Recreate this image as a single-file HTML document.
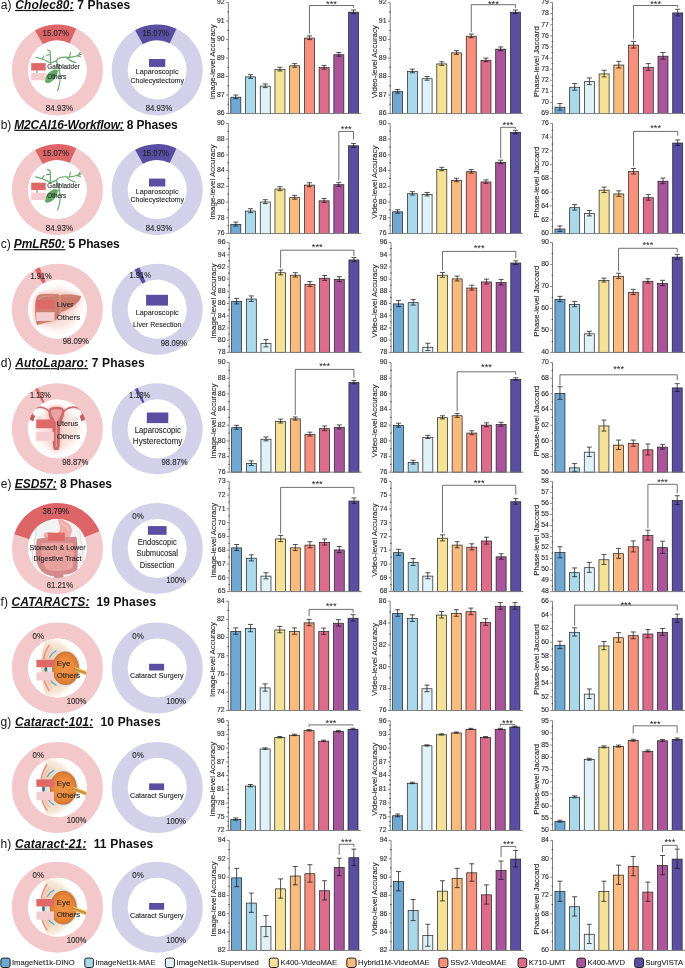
<!DOCTYPE html><html><head><meta charset="utf-8"><style>html,body{margin:0;padding:0;background:#fff;}body{width:685px;height:968px;position:relative;overflow:hidden;} svg{will-change:transform;} text.w{stroke:#333;stroke-width:0.12px;}</style></head><body><svg width="685" height="968" viewBox="0 0 685 968" style="position:absolute;left:0;top:0;font-family:'Liberation Sans', sans-serif">
<rect width="685" height="968" fill="#fff"/>
<defs>
<radialGradient id="glow" cx="50%" cy="50%" r="50%">
<stop offset="0" stop-color="#f7d2cc"/><stop offset="0.6" stop-color="#fbe6e2"/><stop offset="1" stop-color="#fff" stop-opacity="0"/>
</radialGradient>
</defs>
<text x="0.7" y="8.9" font-size="12" fill="#111" textLength="129.6" xml:space="preserve"><tspan>a) </tspan><tspan font-weight="bold" font-style="italic" text-decoration="underline">Cholec80:</tspan><tspan font-weight="bold" xml:space="preserve"> 7 Phases</tspan></text>
<text x="0.8" y="128.7" font-size="12" fill="#111" textLength="176.8" xml:space="preserve"><tspan>b) </tspan><tspan font-weight="bold" font-style="italic" text-decoration="underline">M2CAI16-Workflow:</tspan><tspan font-weight="bold" xml:space="preserve"> 8 Phases</tspan></text>
<text x="0.8" y="248.1" font-size="12" fill="#111" textLength="119" xml:space="preserve"><tspan>c) </tspan><tspan font-weight="bold" font-style="italic" text-decoration="underline">PmLR50:</tspan><tspan font-weight="bold" xml:space="preserve"> 5 Phases</tspan></text>
<text x="0.8" y="367.1" font-size="12" fill="#111" textLength="144" xml:space="preserve"><tspan>d) </tspan><tspan font-weight="bold" font-style="italic" text-decoration="underline">AutoLaparo:</tspan><tspan font-weight="bold" xml:space="preserve"> 7 Phases</tspan></text>
<text x="0.8" y="487.7" font-size="12" fill="#111" textLength="111.2" xml:space="preserve"><tspan>e) </tspan><tspan font-weight="bold" font-style="italic" text-decoration="underline">ESD57:</tspan><tspan font-weight="bold" xml:space="preserve"> 8 Phases</tspan></text>
<text x="0.5" y="605.8" font-size="12" fill="#111" textLength="155.6" xml:space="preserve"><tspan>f) </tspan><tspan font-weight="bold" font-style="italic" text-decoration="underline">CATARACTS:</tspan><tspan font-weight="bold" xml:space="preserve">  19 Phases</tspan></text>
<text x="0.5" y="725.8" font-size="12" fill="#111" textLength="160.1" xml:space="preserve"><tspan>g) </tspan><tspan font-weight="bold" font-style="italic" text-decoration="underline">Cataract-101:</tspan><tspan font-weight="bold" xml:space="preserve">  10 Phases</tspan></text>
<text x="0.5" y="847.7" font-size="12" fill="#111" textLength="152.7" xml:space="preserve"><tspan>h) </tspan><tspan font-weight="bold" font-style="italic" text-decoration="underline">Cataract-21:</tspan><tspan font-weight="bold" xml:space="preserve">  11 Phases</tspan></text>
<defs>
<filter id="blur3" x="-50%" y="-50%" width="200%" height="200%"><feGaussianBlur stdDeviation="2.6"/></filter>
<linearGradient id="skin" x1="0" y1="0" x2="1" y2="0">
<stop offset="0" stop-color="#f1d4b8"/><stop offset="0.45" stop-color="#f4dcc6"/><stop offset="0.85" stop-color="#fbf1e8"/><stop offset="1" stop-color="#fff"/>
</linearGradient>
<radialGradient id="eyeg" cx="50%" cy="50%" r="50%">
<stop offset="0" stop-color="#f09448"/><stop offset="0.7" stop-color="#e8873a"/><stop offset="1" stop-color="#d6732c"/>
</radialGradient>
</defs>
<path d="M76.36 28.64A45.5 45.5 0 1 1 34.91 30.45L42.82 44.36A29.5 29.5 0 1 0 69.69 43.18Z" fill="#f2c8ca"/>
<path d="M34.91 30.45A45.5 45.5 0 0 1 76.36 28.64L69.69 43.18A29.5 29.5 0 0 0 42.82 44.36Z" fill="#dd6567"/>
<path d="M176.52 28.81A45.5 45.5 0 1 1 135.05 30.25L142.84 44.23A29.5 29.5 0 1 0 169.73 43.29Z" fill="#d3d0e9"/>
<path d="M135.05 30.25A45.5 45.5 0 0 1 176.52 28.81L169.73 43.29A29.5 29.5 0 0 0 142.84 44.23Z" fill="#5a4ea3"/>
<path d="M57.7 90.5C60 84 61 78 59.6 72C58.6 67 56.5 63 56.6 60.5M56.6 60.5C58 57.5 62 56.5 69.6 57.4C74 57 78 55.5 81.4 54.2M69.6 57.4L70.3 52.6M76.5 55.8L80.5 56.8M78.5 55L80.2 52.4M66.5 57.8C69 60 72 62 75.5 62.6M56.6 60.5C54 61.5 51.5 62.5 50.6 63.4M50.6 63.4C46 60 41 58.5 35.8 57.3M50.6 63.4C50.5 59 50.4 55 50 51M50 51L47.6 50M50.2 54.5L46.5 55.2M42.5 58.3L44 56M37 68L36.9 75.2M59.4 70.8C58 70.5 57 71 56 72" stroke="#63a567" stroke-width="1.15" fill="none" stroke-linecap="round"/>
<ellipse cx="51.3" cy="76.3" rx="4.2" ry="8.4" fill="#62a866" transform="rotate(42 51.3 76.3)"/>
<rect x="31.2" y="63.1" width="14.5" height="7.4" fill="#df6869"/>
<rect x="31.2" y="73" width="14.5" height="7.3" fill="#f5cdd0"/>
<text class="w" x="47.3" y="68.7" font-size="6.3" text-anchor="start" fill="#1e1e1e" textLength="32.5" lengthAdjust="spacingAndGlyphs">Gallbladder</text>
<text class="w" x="47.3" y="78.7" font-size="6.3" text-anchor="start" fill="#1e1e1e" textLength="19.0" lengthAdjust="spacingAndGlyphs">Others</text>
<text class="w" x="55.8" y="36.1" font-size="8.3" text-anchor="middle" fill="#1e1e1e" textLength="26.5" lengthAdjust="spacingAndGlyphs">15.07%</text>
<text class="w" x="59.4" y="111" font-size="8.3" text-anchor="middle" fill="#1e1e1e" textLength="27.3" lengthAdjust="spacingAndGlyphs">84.93%</text>
<text class="w" x="155.7" y="35.9" font-size="8.3" text-anchor="middle" fill="#1e1e1e" textLength="26.5" lengthAdjust="spacingAndGlyphs">15.07%</text>
<text class="w" x="158.9" y="111.4" font-size="8.3" text-anchor="middle" fill="#1e1e1e" textLength="26.5" lengthAdjust="spacingAndGlyphs">84.93%</text>
<rect x="149" y="59" width="16.3" height="7.9" fill="#5a4ea3"/>
<text class="w" x="157.2" y="74.2" font-size="7.1" text-anchor="middle" fill="#1e1e1e" textLength="42.7" lengthAdjust="spacingAndGlyphs">Laparoscopic</text>
<text class="w" x="157.2" y="82.7" font-size="7.1" text-anchor="middle" fill="#1e1e1e" textLength="53.6" lengthAdjust="spacingAndGlyphs">Cholecystectomy</text>
<path d="M76.36 148.24A45.5 45.5 0 1 1 34.91 150.05L42.82 163.96A29.5 29.5 0 1 0 69.69 162.78Z" fill="#f2c8ca"/>
<path d="M34.91 150.05A45.5 45.5 0 0 1 76.36 148.24L69.69 162.78A29.5 29.5 0 0 0 42.82 163.96Z" fill="#dd6567"/>
<path d="M176.52 148.41A45.5 45.5 0 1 1 135.05 149.85L142.84 163.83A29.5 29.5 0 1 0 169.73 162.89Z" fill="#d3d0e9"/>
<path d="M135.05 149.85A45.5 45.5 0 0 1 176.52 148.41L169.73 162.89A29.5 29.5 0 0 0 142.84 163.83Z" fill="#5a4ea3"/>
<path d="M57.7 210.1C60 203.6 61 197.6 59.6 191.6C58.6 186.6 56.5 182.6 56.6 180.1M56.6 180.1C58 177.1 62 176.1 69.6 177C74 176.6 78 175.1 81.4 173.8M69.6 177L70.3 172.2M76.5 175.4L80.5 176.4M78.5 174.6L80.2 172M66.5 177.4C69 179.6 72 181.6 75.5 182.2M56.6 180.1C54 181.1 51.5 182.1 50.6 183M50.6 183C46 179.6 41 178.1 35.8 176.9M50.6 183C50.5 178.6 50.4 174.6 50 170.6M50 170.6L47.6 169.6M50.2 174.1L46.5 174.8M42.5 177.9L44 175.6M37 187.6L36.9 194.8M59.4 190.4C58 190.1 57 190.6 56 191.6" stroke="#63a567" stroke-width="1.15" fill="none" stroke-linecap="round"/>
<ellipse cx="51.3" cy="195.9" rx="4.2" ry="8.4" fill="#62a866" transform="rotate(42 51.3 195.9)"/>
<rect x="31.2" y="182.7" width="14.5" height="7.4" fill="#df6869"/>
<rect x="31.2" y="192.6" width="14.5" height="7.3" fill="#f5cdd0"/>
<text class="w" x="47.3" y="188.3" font-size="6.3" text-anchor="start" fill="#1e1e1e" textLength="32.5" lengthAdjust="spacingAndGlyphs">Gallbladder</text>
<text class="w" x="47.3" y="198.3" font-size="6.3" text-anchor="start" fill="#1e1e1e" textLength="19.0" lengthAdjust="spacingAndGlyphs">Others</text>
<text class="w" x="55.8" y="155.7" font-size="8.3" text-anchor="middle" fill="#1e1e1e" textLength="26.5" lengthAdjust="spacingAndGlyphs">15.07%</text>
<text class="w" x="59.4" y="230.6" font-size="8.3" text-anchor="middle" fill="#1e1e1e" textLength="27.3" lengthAdjust="spacingAndGlyphs">84.93%</text>
<text class="w" x="155.7" y="155.5" font-size="8.3" text-anchor="middle" fill="#1e1e1e" textLength="26.5" lengthAdjust="spacingAndGlyphs">15.07%</text>
<text class="w" x="158.9" y="231" font-size="8.3" text-anchor="middle" fill="#1e1e1e" textLength="26.5" lengthAdjust="spacingAndGlyphs">84.93%</text>
<rect x="149" y="178.6" width="16.3" height="7.9" fill="#5a4ea3"/>
<text class="w" x="157.2" y="193.8" font-size="7.1" text-anchor="middle" fill="#1e1e1e" textLength="42.7" lengthAdjust="spacingAndGlyphs">Laparoscopic</text>
<text class="w" x="157.2" y="202.3" font-size="7.1" text-anchor="middle" fill="#1e1e1e" textLength="53.6" lengthAdjust="spacingAndGlyphs">Cholecystectomy</text>
<path d="M39.58 267.34A45.5 45.5 0 1 1 34.69 269.77L42.68 283.64A29.5 29.5 0 1 0 45.84 282.06Z" fill="#f2c8ca"/>
<path d="M34.69 269.77A45.5 45.5 0 0 1 39.58 267.34L45.84 282.06A29.5 29.5 0 0 0 42.68 283.64Z" fill="#dd6567"/>
<path d="M139.38 267.34A45.5 45.5 0 1 1 134.49 269.77L142.48 283.64A29.5 29.5 0 1 0 145.64 282.06Z" fill="#d3d0e9"/>
<path d="M134.49 269.77A45.5 45.5 0 0 1 139.38 267.34L145.64 282.06A29.5 29.5 0 0 0 142.48 283.64Z" fill="#5a4ea3"/>
<clipPath id="cl2"><circle cx="57.4" cy="309.2" r="29.5"/></clipPath>
<g clip-path="url(#cl2)">
<circle cx="57.4" cy="309.2" r="29.5" fill="url(#glow)"/>
<path d="M36.5 298C37.5 295.3 39 294.3 41.5 294.2C47 294 54 294 58.6 294.5L60 295.8L61.5 294.8C68 294.3 76 294.6 81.2 296.3C80.5 299.5 77.5 303 73.5 306C69.5 309 64 311 60.5 312.2C59 315 57.5 319 54.5 320.8C48 322.3 42 323.5 37.2 325C35.8 322 35.2 316 35.2 309C35.2 304 35.6 300.5 36.5 298Z" fill="#eea69c" filter="url(#blur3)"/>
<path d="M36.5 298C37.5 295.3 39 294.3 41.5 294.2C47 294 54 294 58.6 294.5L60 295.8L61.5 294.8C68 294.3 76 294.6 81.2 296.3C80.5 299.5 77.5 303 73.5 306C69.5 309 64 311 60.5 312.2C59 315 57.5 319 54.5 320.8C48 322.3 42 323.5 37.2 325C35.8 322 35.2 316 35.2 309C35.2 304 35.6 300.5 36.5 298Z" fill="#cb7d6e"/>
<path d="M38 300C40 296.5 46 295.5 55 296" stroke="#d99384" stroke-width="1.2" fill="none"/>
<path d="M63 297C68 296.2 74 296.5 78 297.5" stroke="#d38a7b" stroke-width="0.9" fill="none"/>
<path d="M60 295.8L60.3 312" stroke="#e5ae9f" stroke-width="0.6"/>
</g>
<rect x="36.2" y="300.1" width="18.3" height="8.8" fill="#df6869"/>
<rect x="36.2" y="312.2" width="18.3" height="8.7" fill="#f5cdd0"/>
<text class="w" x="56.7" y="306.7" font-size="7.8" text-anchor="start" fill="#1e1e1e" textLength="16.9" lengthAdjust="spacingAndGlyphs">Liver</text>
<text class="w" x="56.7" y="319.8" font-size="7.8" text-anchor="start" fill="#1e1e1e" textLength="23.5" lengthAdjust="spacingAndGlyphs">Others</text>
<text class="w" x="41.1" y="278.8" font-size="8.3" text-anchor="middle" fill="#1e1e1e" textLength="21.4" lengthAdjust="spacingAndGlyphs">1.91%</text>
<text class="w" x="75.8" y="344" font-size="8.3" text-anchor="middle" fill="#1e1e1e" textLength="26.3" lengthAdjust="spacingAndGlyphs">98.09%</text>
<text class="w" x="140.2" y="278.4" font-size="8.3" text-anchor="middle" fill="#1e1e1e" textLength="21.4" lengthAdjust="spacingAndGlyphs">1.91%</text>
<text class="w" x="173.8" y="346" font-size="8.3" text-anchor="middle" fill="#1e1e1e" textLength="26.3" lengthAdjust="spacingAndGlyphs">98.09%</text>
<rect x="146.1" y="294.8" width="21.9" height="10.8" fill="#5a4ea3"/>
<text class="w" x="157.2" y="314.9" font-size="7.1" text-anchor="middle" fill="#1e1e1e" textLength="43.0" lengthAdjust="spacingAndGlyphs">Laparoscopic</text>
<text class="w" x="157.2" y="326.7" font-size="7.1" text-anchor="middle" fill="#1e1e1e" textLength="48.5" lengthAdjust="spacingAndGlyphs">Liver Resection</text>
<path d="M37.84 387.72A45.5 45.5 0 1 1 34.97 389.21L42.86 403.13A29.5 29.5 0 1 0 44.72 402.17Z" fill="#f2c8ca"/>
<path d="M34.97 389.21A45.5 45.5 0 0 1 37.84 387.72L44.72 402.17A29.5 29.5 0 0 0 42.86 403.13Z" fill="#dd6567"/>
<path d="M137.64 387.72A45.5 45.5 0 1 1 134.77 389.21L142.66 403.13A29.5 29.5 0 1 0 144.52 402.17Z" fill="#d3d0e9"/>
<path d="M134.77 389.21A45.5 45.5 0 0 1 137.64 387.72L144.52 402.17A29.5 29.5 0 0 0 142.66 403.13Z" fill="#5a4ea3"/>
<clipPath id="cl3"><circle cx="57.4" cy="428.8" r="29.5"/></clipPath>
<g clip-path="url(#cl3)">
<circle cx="57.4" cy="428.8" r="29.5" fill="url(#glow)"/>
<path d="M48.5 412C48.5 407.5 52.5 406.8 56.3 406.8C60.5 406.8 64.3 407.5 64.3 412C64.3 417 61.5 421 60 425L59.8 440C59.8 445 59.3 448 58.5 450L54 450C53.2 448 52.8 445 52.8 440L52.6 425C51 421 48.5 417 48.5 412Z" fill="#f0a8a2" filter="url(#blur3)"/>
<path d="M49.5 411.5C44 407 38 405.8 33.5 409.5C32 411 31.5 413 32 416M63.5 411.5C69 407 75 405.8 80.5 409.5C82.5 411 83 413 82.5 416" stroke="#c56767" stroke-width="1.7" fill="none"/>
<path d="M49.5 411.5C44 407.6 38 406.5 33.8 410M63.5 411.5C69 407.6 75 406.5 80.2 410" stroke="#e9a3a0" stroke-width="0.5" fill="none"/>
<path d="M30.8 413L29.6 419.5L33.2 421.5L35.2 416Z M84 413L85.2 419.5L81.6 421.5L79.6 416Z" fill="#c25e5e"/>
<ellipse cx="39.4" cy="417.8" rx="3" ry="2" fill="#e9e4e4"/>
<ellipse cx="75.2" cy="419" rx="3" ry="2" fill="#e9e4e4"/>
<path d="M48.5 412C48.5 407.5 52.5 406.8 56.3 406.8C60.5 406.8 64.3 407.5 64.3 412C64.3 417 61.5 421 60 425L59.8 440C59.8 445 59.3 448 58.5 450L54 450C53.2 448 52.8 445 52.8 440L52.6 425C51 421 48.5 417 48.5 412Z" fill="#cc6b6b"/>
<path d="M50.5 410.5C53 408.8 59.5 408.8 62.2 410.5C61.5 415.5 58.8 419.5 56.4 423C54 419.5 51.2 415.5 50.5 410.5Z" fill="#eaa3a1"/>
<path d="M56.4 423L56.3 447" stroke="#e49c99" stroke-width="1.3"/>
</g>
<rect x="36.2" y="419.5" width="17.7" height="8.7" fill="#df6869"/>
<rect x="36.2" y="432.1" width="17.7" height="8.7" fill="#f5cdd0"/>
<text class="w" x="56.7" y="426.4" font-size="7.8" text-anchor="start" fill="#1e1e1e" textLength="21.5" lengthAdjust="spacingAndGlyphs">Uterus</text>
<text class="w" x="56.7" y="438.7" font-size="7.8" text-anchor="start" fill="#1e1e1e" textLength="23.5" lengthAdjust="spacingAndGlyphs">Others</text>
<text class="w" x="40.3" y="398.2" font-size="8.3" text-anchor="middle" fill="#1e1e1e" textLength="20.8" lengthAdjust="spacingAndGlyphs">1.13%</text>
<text class="w" x="75.3" y="464.8" font-size="8.3" text-anchor="middle" fill="#1e1e1e" textLength="26.3" lengthAdjust="spacingAndGlyphs">98.87%</text>
<text class="w" x="139.6" y="398.4" font-size="8.3" text-anchor="middle" fill="#1e1e1e" textLength="21.0" lengthAdjust="spacingAndGlyphs">1.13%</text>
<text class="w" x="174.6" y="465.3" font-size="8.3" text-anchor="middle" fill="#1e1e1e" textLength="26.1" lengthAdjust="spacingAndGlyphs">98.87%</text>
<rect x="146.8" y="412.5" width="21.5" height="10.6" fill="#5a4ea3"/>
<text class="w" x="157.8" y="432.9" font-size="9.0" text-anchor="middle" fill="#1e1e1e" textLength="46.3" lengthAdjust="spacingAndGlyphs">Laparoscopic</text>
<text class="w" x="157.6" y="444.4" font-size="9.0" text-anchor="middle" fill="#1e1e1e" textLength="49.5" lengthAdjust="spacingAndGlyphs">Hysterectomy</text>
<path d="M99.53 531.22A45.5 45.5 0 1 1 14.17 534.21L29.37 539.2A29.5 29.5 0 1 0 84.72 537.26Z" fill="#f2c8ca"/>
<path d="M14.17 534.21A45.5 45.5 0 0 1 99.53 531.22L84.72 537.26A29.5 29.5 0 0 0 29.37 539.2Z" fill="#dd6567"/>
<circle cx="157.2" cy="548.4" r="37.5" fill="none" stroke="#d3d0e9" stroke-width="16.0"/>
<path d="M142.01 523.11L133.77 509.4" stroke="#fff" stroke-width="0.6" stroke-opacity="0.85"/>
<clipPath id="cl4"><circle cx="57.4" cy="548.4" r="29.5"/></clipPath>
<g clip-path="url(#cl4)">
<path d="M37 516C37.5 530 34 542 32.5 553C31.5 562 33 572 34 582L81 582C82 572 83.5 562 83 553C82 542 78.5 530 79 516Z" fill="#f2f2f2" stroke="#b8b8b8" stroke-width="0.5"/>
<path d="M57.4 516L61.6 516C62 520 64 521 67 522.5C71 524.5 72.3 529 71.6 532.5C70.5 538 66.5 542.5 60 542.6C53 542.8 46 541 43.8 536C43.5 533.5 45 532 47 532.3C51 533 56 533.5 58.4 532.5C60.5 531 60.2 527 59.3 524C58.5 521.5 57.6 519.5 57.4 516Z" fill="#efaba5"/>
<path d="M61 523C63 525 68 526 69 531" stroke="#f5c4bf" stroke-width="1.4" fill="none"/>
<path d="M37 539C48 536.5 63 537.5 76.5 536.8C78 547 78 560 77.2 570C72 573.5 68 575 63.5 574.5L63 582L54 582L54 576C49 576 45 574 42.5 572C38.5 568 36 563 35.8 555C35.8 549 36.2 543 37 539Z" fill="#d4898b"/>
<path d="M41.5 543.5C52 542 63 542.5 73 543C74 551 74 561 72.5 568C65 571 56 572 46.5 569.5C42 563 41 552 41.5 543.5Z" fill="#eaa7a1"/>
<ellipse cx="47" cy="549" rx="2.7" ry="2.1" fill="none" stroke="#d8918d" stroke-width="0.55"/>
<ellipse cx="53" cy="548.5" rx="2.7" ry="2.1" fill="none" stroke="#d8918d" stroke-width="0.55"/>
<ellipse cx="59" cy="549" rx="2.7" ry="2.1" fill="none" stroke="#d8918d" stroke-width="0.55"/>
<ellipse cx="65" cy="549" rx="2.7" ry="2.1" fill="none" stroke="#d8918d" stroke-width="0.55"/>
<ellipse cx="70" cy="549.5" rx="2.7" ry="2.1" fill="none" stroke="#d8918d" stroke-width="0.55"/>
<ellipse cx="46" cy="555" rx="2.7" ry="2.1" fill="none" stroke="#d8918d" stroke-width="0.55"/>
<ellipse cx="52" cy="555" rx="2.7" ry="2.1" fill="none" stroke="#d8918d" stroke-width="0.55"/>
<ellipse cx="58" cy="555.5" rx="2.7" ry="2.1" fill="none" stroke="#d8918d" stroke-width="0.55"/>
<ellipse cx="64" cy="555" rx="2.7" ry="2.1" fill="none" stroke="#d8918d" stroke-width="0.55"/>
<ellipse cx="69.5" cy="556" rx="2.7" ry="2.1" fill="none" stroke="#d8918d" stroke-width="0.55"/>
<ellipse cx="49" cy="561" rx="2.7" ry="2.1" fill="none" stroke="#d8918d" stroke-width="0.55"/>
<ellipse cx="55" cy="561.5" rx="2.7" ry="2.1" fill="none" stroke="#d8918d" stroke-width="0.55"/>
<ellipse cx="61" cy="561" rx="2.7" ry="2.1" fill="none" stroke="#d8918d" stroke-width="0.55"/>
<ellipse cx="67" cy="561.5" rx="2.7" ry="2.1" fill="none" stroke="#d8918d" stroke-width="0.55"/>
<ellipse cx="52" cy="566.5" rx="2.7" ry="2.1" fill="none" stroke="#d8918d" stroke-width="0.55"/>
<ellipse cx="58" cy="567" rx="2.7" ry="2.1" fill="none" stroke="#d8918d" stroke-width="0.55"/>
<ellipse cx="64" cy="566.5" rx="2.7" ry="2.1" fill="none" stroke="#d8918d" stroke-width="0.55"/>
</g>
<rect x="48.1" y="532.7" width="16.7" height="8.1" fill="#df6869"/>
<text class="w" x="57.5" y="549.8" font-size="7.1" text-anchor="middle" fill="#1e1e1e" textLength="56.2" lengthAdjust="spacingAndGlyphs">Stomach &amp; Lower</text>
<text class="w" x="57.5" y="560.9" font-size="7.1" text-anchor="middle" fill="#1e1e1e" textLength="47.8" lengthAdjust="spacingAndGlyphs">Digestive Tract</text>
<text class="w" x="55.8" y="514.3" font-size="8.3" text-anchor="middle" fill="#1e1e1e" textLength="26.5" lengthAdjust="spacingAndGlyphs">38.79%</text>
<text class="w" x="59.9" y="588.2" font-size="8.3" text-anchor="middle" fill="#1e1e1e" textLength="26.5" lengthAdjust="spacingAndGlyphs">61.21%</text>
<text class="w" x="138" y="518.8" font-size="8.3" text-anchor="middle" fill="#1e1e1e" textLength="11.5" lengthAdjust="spacingAndGlyphs">0%</text>
<text class="w" x="176.1" y="583.3" font-size="8.3" text-anchor="middle" fill="#1e1e1e" textLength="19.8" lengthAdjust="spacingAndGlyphs">100%</text>
<rect x="147.9" y="526.1" width="18.7" height="8.7" fill="#5a4ea3"/>
<text class="w" x="157.2" y="545.2" font-size="8.8" text-anchor="middle" fill="#1e1e1e" textLength="38.9" lengthAdjust="spacingAndGlyphs">Endoscopic</text>
<text class="w" x="157.2" y="556.3" font-size="8.8" text-anchor="middle" fill="#1e1e1e" textLength="41.6" lengthAdjust="spacingAndGlyphs">Submucosal</text>
<text class="w" x="157.2" y="567.7" font-size="8.8" text-anchor="middle" fill="#1e1e1e" textLength="34.7" lengthAdjust="spacingAndGlyphs">Dissection</text>
<circle cx="57.4" cy="668.0" r="37.5" fill="none" stroke="#f2c8ca" stroke-width="16.0"/>
<circle cx="157.2" cy="668.0" r="37.5" fill="none" stroke="#d3d0e9" stroke-width="16.0"/>
<path d="M42.21 642.71L33.97 629" stroke="#fff" stroke-width="0.6" stroke-opacity="0.85"/>
<path d="M142.01 642.71L133.77 629" stroke="#fff" stroke-width="0.6" stroke-opacity="0.85"/>
<clipPath id="cl5"><circle cx="57.4" cy="668" r="29.5"/></clipPath>
<g clip-path="url(#cl5)">
<radialGradient id="skcl5" gradientUnits="userSpaceOnUse" cx="46.9" cy="668" r="34"><stop offset="0" stop-color="#edcba9"/><stop offset="0.5" stop-color="#f1d5b9"/><stop offset="0.78" stop-color="#f8e9da"/><stop offset="0.93" stop-color="#fff"/></radialGradient>
<path d="M46.5 636C42.5 648 40.5 660 41 668.7C41.5 680 43.5 690 47.5 700L92 700L92 636Z" fill="url(#skcl5)"/>
<path d="M49.5 645C46.5 649 44.5 654 43.5 659.5M49.5 691C46.5 687 44.5 682 43.5 676.5" stroke="#e8948c" stroke-width="1.6" fill="none"/>
<path d="M52 648C49.5 651 47.5 655 46.5 659.5M52 688C49.5 685 47.5 681 46.5 676.5" stroke="#f2b9a8" stroke-width="1.0" fill="none"/>
<path d="M56.5 650.5C53.5 652 51 654.5 49.5 657.5M56.5 685.5C53.5 684 51 681.5 49.5 678.5" stroke="#5b9fd0" stroke-width="1.2" fill="none"/>
<path d="M59 646C56 647.5 53 649.5 51 652.5M59 690C56 688.5 53 686.5 51 683.5" stroke="#dfe8ee" stroke-width="0.9" fill="none"/>
<ellipse cx="65.5" cy="668.4" rx="14.8" ry="18.0" fill="#cfe3ec"/>
<ellipse cx="65.5" cy="668.4" rx="13.5" ry="16.8" fill="url(#eyeg)"/>
<path d="M53 660C51 664 51 673 53 677L49 677C47.5 673 47.5 664 49 660Z" fill="#d6e8f1"/>
<ellipse cx="45.8" cy="669.3" rx="1.3" ry="2.8" fill="#2d6c9c"/>
<path d="M75 667L90.5 672.5L90.5 677L75 671Z" fill="#f3c444"/>
<path d="M74.5 668.6L90.5 674.4" stroke="#c0392b" stroke-width="0.6"/>
<path d="M74.5 669.8L90.5 675.6" stroke="#3b5fa0" stroke-width="0.4"/>
</g>
<rect x="36.4" y="659.8" width="17.5" height="7.4" fill="#df6869"/>
<rect x="36.4" y="672.2" width="17.5" height="8.4" fill="#f5cdd0"/>
<text class="w" x="56.7" y="666.1" font-size="7.8" text-anchor="start" fill="#1e1e1e" textLength="13.6" lengthAdjust="spacingAndGlyphs">Eye</text>
<text class="w" x="56.7" y="678.2" font-size="7.8" text-anchor="start" fill="#1e1e1e" textLength="23.5" lengthAdjust="spacingAndGlyphs">Others</text>
<text class="w" x="38.3" y="638.5" font-size="8.3" text-anchor="middle" fill="#1e1e1e" textLength="11.5" lengthAdjust="spacingAndGlyphs">0%</text>
<text class="w" x="76.6" y="703.7" font-size="8.3" text-anchor="middle" fill="#1e1e1e" textLength="19.8" lengthAdjust="spacingAndGlyphs">100%</text>
<text class="w" x="138" y="638.8" font-size="8.3" text-anchor="middle" fill="#1e1e1e" textLength="11.5" lengthAdjust="spacingAndGlyphs">0%</text>
<text class="w" x="176.1" y="704" font-size="8.3" text-anchor="middle" fill="#1e1e1e" textLength="19.8" lengthAdjust="spacingAndGlyphs">100%</text>
<rect x="149.1" y="663.8" width="15" height="6.7" fill="#5a4ea3"/>
<text class="w" x="156.8" y="678.4" font-size="7.1" text-anchor="middle" fill="#1e1e1e" textLength="53.4" lengthAdjust="spacingAndGlyphs">Cataract Surgery</text>
<circle cx="57.4" cy="787.5999999999999" r="37.5" fill="none" stroke="#f2c8ca" stroke-width="16.0"/>
<circle cx="157.2" cy="787.5999999999999" r="37.5" fill="none" stroke="#d3d0e9" stroke-width="16.0"/>
<path d="M42.21 762.31L33.97 748.6" stroke="#fff" stroke-width="0.6" stroke-opacity="0.85"/>
<path d="M142.01 762.31L133.77 748.6" stroke="#fff" stroke-width="0.6" stroke-opacity="0.85"/>
<clipPath id="cl6"><circle cx="57.4" cy="787.6" r="29.5"/></clipPath>
<g clip-path="url(#cl6)">
<radialGradient id="skcl6" gradientUnits="userSpaceOnUse" cx="44.6" cy="787.6" r="34"><stop offset="0" stop-color="#edcba9"/><stop offset="0.5" stop-color="#f1d5b9"/><stop offset="0.78" stop-color="#f8e9da"/><stop offset="0.93" stop-color="#fff"/></radialGradient>
<path d="M47.1 755.6C43.1 767.6 41.1 779.6 41.6 788.3C42.1 799.6 44.1 809.6 48.1 819.6L92.6 819.6L92.6 755.6Z" fill="url(#skcl6)"/>
<path d="M47.2 764.6C44.2 768.6 42.2 773.6 41.2 779.1M47.2 810.6C44.2 806.6 42.2 801.6 41.2 796.1" stroke="#e8948c" stroke-width="1.6" fill="none"/>
<path d="M49.7 767.6C47.2 770.6 45.2 774.6 44.2 779.1M49.7 807.6C47.2 804.6 45.2 800.6 44.2 796.1" stroke="#f2b9a8" stroke-width="1.0" fill="none"/>
<path d="M54.2 770.1C51.2 771.6 48.7 774.1 47.2 777.1M54.2 805.1C51.2 803.6 48.7 801.1 47.2 798.1" stroke="#5b9fd0" stroke-width="1.2" fill="none"/>
<path d="M56.7 765.6C53.7 767.1 50.7 769.1 48.7 772.1M56.7 809.6C53.7 808.1 50.7 806.1 48.7 803.1" stroke="#dfe8ee" stroke-width="0.9" fill="none"/>
<ellipse cx="63.2" cy="788" rx="14.8" ry="18.0" fill="#cfe3ec"/>
<ellipse cx="63.2" cy="788" rx="13.5" ry="16.8" fill="url(#eyeg)"/>
<path d="M50.7 779.6C48.7 783.6 48.7 792.6 50.7 796.6L46.7 796.6C45.2 792.6 45.2 783.6 46.7 779.6Z" fill="#d6e8f1"/>
<ellipse cx="43.5" cy="788.9" rx="1.3" ry="2.8" fill="#2d6c9c"/>
<path d="M72.7 786.6L88.2 792.1L88.2 796.6L72.7 790.6Z" fill="#f3c444"/>
<path d="M72.2 788.2L88.2 794" stroke="#c0392b" stroke-width="0.6"/>
<path d="M72.2 789.4L88.2 795.2" stroke="#3b5fa0" stroke-width="0.4"/>
</g>
<rect x="36.4" y="779.4" width="17.5" height="7.4" fill="#df6869"/>
<rect x="36.4" y="791.8" width="17.5" height="8.4" fill="#f5cdd0"/>
<text class="w" x="56.7" y="785.7" font-size="7.8" text-anchor="start" fill="#1e1e1e" textLength="13.6" lengthAdjust="spacingAndGlyphs">Eye</text>
<text class="w" x="56.7" y="797.8" font-size="7.8" text-anchor="start" fill="#1e1e1e" textLength="23.5" lengthAdjust="spacingAndGlyphs">Others</text>
<text class="w" x="38.3" y="758.1" font-size="8.3" text-anchor="middle" fill="#1e1e1e" textLength="11.5" lengthAdjust="spacingAndGlyphs">0%</text>
<text class="w" x="76.6" y="823.3" font-size="8.3" text-anchor="middle" fill="#1e1e1e" textLength="19.8" lengthAdjust="spacingAndGlyphs">100%</text>
<text class="w" x="138" y="758.4" font-size="8.3" text-anchor="middle" fill="#1e1e1e" textLength="11.5" lengthAdjust="spacingAndGlyphs">0%</text>
<text class="w" x="176.1" y="823.6" font-size="8.3" text-anchor="middle" fill="#1e1e1e" textLength="19.8" lengthAdjust="spacingAndGlyphs">100%</text>
<rect x="149.1" y="783.4" width="15" height="6.7" fill="#5a4ea3"/>
<text class="w" x="156.8" y="798" font-size="7.1" text-anchor="middle" fill="#1e1e1e" textLength="53.4" lengthAdjust="spacingAndGlyphs">Cataract Surgery</text>
<circle cx="57.4" cy="907.1999999999999" r="37.5" fill="none" stroke="#f2c8ca" stroke-width="16.0"/>
<circle cx="157.2" cy="907.1999999999999" r="37.5" fill="none" stroke="#d3d0e9" stroke-width="16.0"/>
<path d="M42.21 881.91L33.97 868.2" stroke="#fff" stroke-width="0.6" stroke-opacity="0.85"/>
<path d="M142.01 881.91L133.77 868.2" stroke="#fff" stroke-width="0.6" stroke-opacity="0.85"/>
<clipPath id="cl7"><circle cx="57.4" cy="907.2" r="29.5"/></clipPath>
<g clip-path="url(#cl7)">
<radialGradient id="skcl7" gradientUnits="userSpaceOnUse" cx="44.6" cy="907.2" r="34"><stop offset="0" stop-color="#edcba9"/><stop offset="0.5" stop-color="#f1d5b9"/><stop offset="0.78" stop-color="#f8e9da"/><stop offset="0.93" stop-color="#fff"/></radialGradient>
<path d="M47.1 875.2C43.1 887.2 41.1 899.2 41.6 907.9C42.1 919.2 44.1 929.2 48.1 939.2L92.6 939.2L92.6 875.2Z" fill="url(#skcl7)"/>
<path d="M47.2 884.2C44.2 888.2 42.2 893.2 41.2 898.7M47.2 930.2C44.2 926.2 42.2 921.2 41.2 915.7" stroke="#e8948c" stroke-width="1.6" fill="none"/>
<path d="M49.7 887.2C47.2 890.2 45.2 894.2 44.2 898.7M49.7 927.2C47.2 924.2 45.2 920.2 44.2 915.7" stroke="#f2b9a8" stroke-width="1.0" fill="none"/>
<path d="M54.2 889.7C51.2 891.2 48.7 893.7 47.2 896.7M54.2 924.7C51.2 923.2 48.7 920.7 47.2 917.7" stroke="#5b9fd0" stroke-width="1.2" fill="none"/>
<path d="M56.7 885.2C53.7 886.7 50.7 888.7 48.7 891.7M56.7 929.2C53.7 927.7 50.7 925.7 48.7 922.7" stroke="#dfe8ee" stroke-width="0.9" fill="none"/>
<ellipse cx="63.2" cy="907.6" rx="14.8" ry="18.0" fill="#cfe3ec"/>
<ellipse cx="63.2" cy="907.6" rx="13.5" ry="16.8" fill="url(#eyeg)"/>
<path d="M50.7 899.2C48.7 903.2 48.7 912.2 50.7 916.2L46.7 916.2C45.2 912.2 45.2 903.2 46.7 899.2Z" fill="#d6e8f1"/>
<ellipse cx="43.5" cy="908.5" rx="1.3" ry="2.8" fill="#2d6c9c"/>
<path d="M72.7 906.2L88.2 911.7L88.2 916.2L72.7 910.2Z" fill="#f3c444"/>
<path d="M72.2 907.8L88.2 913.6" stroke="#c0392b" stroke-width="0.6"/>
<path d="M72.2 909L88.2 914.8" stroke="#3b5fa0" stroke-width="0.4"/>
</g>
<rect x="36.4" y="899" width="17.5" height="7.4" fill="#df6869"/>
<rect x="36.4" y="911.4" width="17.5" height="8.4" fill="#f5cdd0"/>
<text class="w" x="56.7" y="905.3" font-size="7.8" text-anchor="start" fill="#1e1e1e" textLength="13.6" lengthAdjust="spacingAndGlyphs">Eye</text>
<text class="w" x="56.7" y="917.4" font-size="7.8" text-anchor="start" fill="#1e1e1e" textLength="23.5" lengthAdjust="spacingAndGlyphs">Others</text>
<text class="w" x="38.3" y="877.7" font-size="8.3" text-anchor="middle" fill="#1e1e1e" textLength="11.5" lengthAdjust="spacingAndGlyphs">0%</text>
<text class="w" x="76.6" y="942.9" font-size="8.3" text-anchor="middle" fill="#1e1e1e" textLength="19.8" lengthAdjust="spacingAndGlyphs">100%</text>
<text class="w" x="138" y="878" font-size="8.3" text-anchor="middle" fill="#1e1e1e" textLength="11.5" lengthAdjust="spacingAndGlyphs">0%</text>
<text class="w" x="176.1" y="943.2" font-size="8.3" text-anchor="middle" fill="#1e1e1e" textLength="19.8" lengthAdjust="spacingAndGlyphs">100%</text>
<rect x="149.1" y="903" width="15" height="6.7" fill="#5a4ea3"/>
<text class="w" x="156.8" y="917.6" font-size="7.1" text-anchor="middle" fill="#1e1e1e" textLength="53.4" lengthAdjust="spacingAndGlyphs">Cataract Surgery</text>
<rect x="230.8" y="97.21" width="10" height="16.29" fill="#6fa8d2" stroke="#1f1f1f" stroke-width="0.7"/>
<rect x="245.52" y="76.88" width="10" height="36.62" fill="#a9d9ea" stroke="#1f1f1f" stroke-width="0.7"/>
<rect x="260.24" y="86.12" width="10" height="27.37" fill="#e0f2f8" stroke="#1f1f1f" stroke-width="0.7"/>
<rect x="274.96" y="69.49" width="10" height="44.01" fill="#f3e297" stroke="#1f1f1f" stroke-width="0.7"/>
<rect x="289.68" y="65.79" width="10" height="47.71" fill="#f9bb7e" stroke="#1f1f1f" stroke-width="0.7"/>
<rect x="304.4" y="38.07" width="10" height="75.43" fill="#f68f7c" stroke="#1f1f1f" stroke-width="0.7"/>
<rect x="319.12" y="67.64" width="10" height="45.86" fill="#dd6b8b" stroke="#1f1f1f" stroke-width="0.7"/>
<rect x="333.84" y="54.7" width="10" height="58.8" fill="#a9559c" stroke="#1f1f1f" stroke-width="0.7"/>
<rect x="348.56" y="12.19" width="10" height="101.31" fill="#5a4ea3" stroke="#1f1f1f" stroke-width="0.7"/>
<path d="M235.8 95.02V98.71M233.3 95.02H238.3M233.3 98.71H238.3" stroke="#1a1a1a" stroke-width="0.75" fill="none"/>
<path d="M250.52 74.69V78.38M248.02 74.69H253.02M248.02 78.38H253.02" stroke="#1a1a1a" stroke-width="0.75" fill="none"/>
<path d="M265.24 83.93V87.62M262.74 83.93H267.74M262.74 87.62H267.74" stroke="#1a1a1a" stroke-width="0.75" fill="none"/>
<path d="M279.96 67.29V70.99M277.46 67.29H282.46M277.46 70.99H282.46" stroke="#1a1a1a" stroke-width="0.75" fill="none"/>
<path d="M294.68 63.6V67.29M292.18 63.6H297.18M292.18 67.29H297.18" stroke="#1a1a1a" stroke-width="0.75" fill="none"/>
<path d="M309.4 35.87V39.57M306.9 35.87H311.9M306.9 39.57H311.9" stroke="#1a1a1a" stroke-width="0.75" fill="none"/>
<path d="M324.12 65.44V69.14M321.62 65.44H326.62M321.62 69.14H326.62" stroke="#1a1a1a" stroke-width="0.75" fill="none"/>
<path d="M338.84 52.51V56.2M336.34 52.51H341.34M336.34 56.2H341.34" stroke="#1a1a1a" stroke-width="0.75" fill="none"/>
<path d="M353.56 9.99V13.69M351.06 9.99H356.06M351.06 13.69H356.06" stroke="#1a1a1a" stroke-width="0.75" fill="none"/>
<path d="M228.35 2.6V113.5H360.85" stroke="#808080" stroke-width="1.0" fill="none"/>
<path d="M226.05 113.5H228.35M226.05 95.02H228.35M226.05 76.53H228.35M226.05 58.05H228.35M226.05 39.57H228.35M226.05 21.08H228.35M226.05 2.6H228.35" stroke="#666" stroke-width="0.8" fill="none"/>
<path d="M227.45 104.26H228.85M227.45 85.78H228.85M227.45 67.29H228.85M227.45 48.81H228.85M227.45 30.32H228.85M227.45 11.84H228.85" stroke="#333" stroke-width="0.9" fill="none"/>
<text class="w" x="224.65" y="115.3" font-size="6.9" text-anchor="end" fill="#2a2a2a">86</text>
<text class="w" x="224.65" y="96.82" font-size="6.9" text-anchor="end" fill="#2a2a2a">87</text>
<text class="w" x="224.65" y="78.33" font-size="6.9" text-anchor="end" fill="#2a2a2a">88</text>
<text class="w" x="224.65" y="59.85" font-size="6.9" text-anchor="end" fill="#2a2a2a">89</text>
<text class="w" x="224.65" y="41.37" font-size="6.9" text-anchor="end" fill="#2a2a2a">90</text>
<text class="w" x="224.65" y="22.88" font-size="6.9" text-anchor="end" fill="#2a2a2a">91</text>
<text class="w" x="224.65" y="4.4" font-size="6.9" text-anchor="end" fill="#2a2a2a">92</text>
<text class="w" transform="translate(214.65 61.75) rotate(-90)" font-size="7.9" text-anchor="middle" fill="#1e1e1e">Image-level Accuracy</text>
<path d="M309.4 33.87V5.5H353.56V7.8" stroke="#4a4a4a" stroke-width="0.8" fill="none"/>
<text x="331.48" y="6.8" font-size="9.3" text-anchor="middle" fill="#1e1e1e">***</text>
<rect x="392.65" y="91.67" width="10" height="21.83" fill="#6fa8d2" stroke="#1f1f1f" stroke-width="0.7"/>
<rect x="407.37" y="71.34" width="10" height="42.16" fill="#a9d9ea" stroke="#1f1f1f" stroke-width="0.7"/>
<rect x="422.09" y="78.73" width="10" height="34.77" fill="#e0f2f8" stroke="#1f1f1f" stroke-width="0.7"/>
<rect x="436.81" y="63.94" width="10" height="49.56" fill="#f3e297" stroke="#1f1f1f" stroke-width="0.7"/>
<rect x="451.53" y="52.86" width="10" height="60.64" fill="#f9bb7e" stroke="#1f1f1f" stroke-width="0.7"/>
<rect x="466.25" y="36.22" width="10" height="77.28" fill="#f68f7c" stroke="#1f1f1f" stroke-width="0.7"/>
<rect x="480.97" y="60.25" width="10" height="53.25" fill="#dd6b8b" stroke="#1f1f1f" stroke-width="0.7"/>
<rect x="495.69" y="49.16" width="10" height="64.34" fill="#a9559c" stroke="#1f1f1f" stroke-width="0.7"/>
<rect x="510.41" y="12.19" width="10" height="101.31" fill="#5a4ea3" stroke="#1f1f1f" stroke-width="0.7"/>
<path d="M397.65 89.47V93.17M395.15 89.47H400.15M395.15 93.17H400.15" stroke="#1a1a1a" stroke-width="0.75" fill="none"/>
<path d="M412.37 69.14V72.84M409.87 69.14H414.87M409.87 72.84H414.87" stroke="#1a1a1a" stroke-width="0.75" fill="none"/>
<path d="M427.09 76.53V80.23M424.59 76.53H429.59M424.59 80.23H429.59" stroke="#1a1a1a" stroke-width="0.75" fill="none"/>
<path d="M441.81 61.75V65.44M439.31 61.75H444.31M439.31 65.44H444.31" stroke="#1a1a1a" stroke-width="0.75" fill="none"/>
<path d="M456.53 50.66V54.35M454.03 50.66H459.03M454.03 54.35H459.03" stroke="#1a1a1a" stroke-width="0.75" fill="none"/>
<path d="M471.25 34.02V37.72M468.75 34.02H473.75M468.75 37.72H473.75" stroke="#1a1a1a" stroke-width="0.75" fill="none"/>
<path d="M485.97 58.05V61.75M483.47 58.05H488.47M483.47 61.75H488.47" stroke="#1a1a1a" stroke-width="0.75" fill="none"/>
<path d="M500.69 46.96V50.66M498.19 46.96H503.19M498.19 50.66H503.19" stroke="#1a1a1a" stroke-width="0.75" fill="none"/>
<path d="M515.41 9.99V13.69M512.91 9.99H517.91M512.91 13.69H517.91" stroke="#1a1a1a" stroke-width="0.75" fill="none"/>
<path d="M390.2 2.6V113.5H522.7" stroke="#808080" stroke-width="1.0" fill="none"/>
<path d="M387.9 113.5H390.2M387.9 95.02H390.2M387.9 76.53H390.2M387.9 58.05H390.2M387.9 39.57H390.2M387.9 21.08H390.2M387.9 2.6H390.2" stroke="#666" stroke-width="0.8" fill="none"/>
<path d="M389.3 104.26H390.7M389.3 85.78H390.7M389.3 67.29H390.7M389.3 48.81H390.7M389.3 30.32H390.7M389.3 11.84H390.7" stroke="#333" stroke-width="0.9" fill="none"/>
<text class="w" x="386.5" y="115.3" font-size="6.9" text-anchor="end" fill="#2a2a2a">86</text>
<text class="w" x="386.5" y="96.82" font-size="6.9" text-anchor="end" fill="#2a2a2a">87</text>
<text class="w" x="386.5" y="78.33" font-size="6.9" text-anchor="end" fill="#2a2a2a">88</text>
<text class="w" x="386.5" y="59.85" font-size="6.9" text-anchor="end" fill="#2a2a2a">89</text>
<text class="w" x="386.5" y="41.37" font-size="6.9" text-anchor="end" fill="#2a2a2a">90</text>
<text class="w" x="386.5" y="22.88" font-size="6.9" text-anchor="end" fill="#2a2a2a">91</text>
<text class="w" x="386.5" y="4.4" font-size="6.9" text-anchor="end" fill="#2a2a2a">92</text>
<text class="w" transform="translate(376.5 61.75) rotate(-90)" font-size="7.9" text-anchor="middle" fill="#1e1e1e">Video-level Accuracy</text>
<path d="M471.25 32.02V4.7H515.41V7.9" stroke="#4a4a4a" stroke-width="0.8" fill="none"/>
<text x="493.33" y="6.7" font-size="9.3" text-anchor="middle" fill="#1e1e1e">***</text>
<rect x="554.95" y="107.2" width="10" height="6.3" fill="#6fa8d2" stroke="#1f1f1f" stroke-width="0.7"/>
<rect x="569.67" y="87.23" width="10" height="26.27" fill="#a9d9ea" stroke="#1f1f1f" stroke-width="0.7"/>
<rect x="584.39" y="81.69" width="10" height="31.81" fill="#e0f2f8" stroke="#1f1f1f" stroke-width="0.7"/>
<rect x="599.11" y="73.93" width="10" height="39.57" fill="#f3e297" stroke="#1f1f1f" stroke-width="0.7"/>
<rect x="613.83" y="65.05" width="10" height="48.45" fill="#f9bb7e" stroke="#1f1f1f" stroke-width="0.7"/>
<rect x="628.55" y="45.09" width="10" height="68.41" fill="#f68f7c" stroke="#1f1f1f" stroke-width="0.7"/>
<rect x="643.27" y="67.27" width="10" height="46.23" fill="#dd6b8b" stroke="#1f1f1f" stroke-width="0.7"/>
<rect x="657.99" y="56.18" width="10" height="57.32" fill="#a9559c" stroke="#1f1f1f" stroke-width="0.7"/>
<rect x="672.71" y="12.93" width="10" height="100.57" fill="#5a4ea3" stroke="#1f1f1f" stroke-width="0.7"/>
<path d="M559.95 103.52V110.17M557.45 103.52H562.45M557.45 110.17H562.45" stroke="#1a1a1a" stroke-width="0.75" fill="none"/>
<path d="M574.67 83.56V90.21M572.17 83.56H577.17M572.17 90.21H577.17" stroke="#1a1a1a" stroke-width="0.75" fill="none"/>
<path d="M589.39 78.01V84.67M586.89 78.01H591.89M586.89 84.67H591.89" stroke="#1a1a1a" stroke-width="0.75" fill="none"/>
<path d="M604.11 70.25V76.9M601.61 70.25H606.61M601.61 76.9H606.61" stroke="#1a1a1a" stroke-width="0.75" fill="none"/>
<path d="M618.83 61.38V68.03M616.33 61.38H621.33M616.33 68.03H621.33" stroke="#1a1a1a" stroke-width="0.75" fill="none"/>
<path d="M633.55 41.41V48.07M631.05 41.41H636.05M631.05 48.07H636.05" stroke="#1a1a1a" stroke-width="0.75" fill="none"/>
<path d="M648.27 63.59V70.25M645.77 63.59H650.77M645.77 70.25H650.77" stroke="#1a1a1a" stroke-width="0.75" fill="none"/>
<path d="M662.99 52.5V59.16M660.49 52.5H665.49M660.49 59.16H665.49" stroke="#1a1a1a" stroke-width="0.75" fill="none"/>
<path d="M677.71 9.25V15.91M675.21 9.25H680.21M675.21 15.91H680.21" stroke="#1a1a1a" stroke-width="0.75" fill="none"/>
<path d="M552.5 2.6V113.5H685" stroke="#808080" stroke-width="1.0" fill="none"/>
<path d="M550.2 113.5H552.5M550.2 102.41H552.5M550.2 91.32H552.5M550.2 80.23H552.5M550.2 69.14H552.5M550.2 58.05H552.5M550.2 46.96H552.5M550.2 35.87H552.5M550.2 24.78H552.5M550.2 13.69H552.5M550.2 2.6H552.5" stroke="#666" stroke-width="0.8" fill="none"/>
<path d="M551.6 107.95H553M551.6 96.86H553M551.6 85.78H553M551.6 74.69H553M551.6 63.59H553M551.6 52.5H553M551.6 41.41H553M551.6 30.32H553M551.6 19.23H553M551.6 8.14H553" stroke="#333" stroke-width="0.9" fill="none"/>
<text class="w" x="548.8" y="115.3" font-size="6.9" text-anchor="end" fill="#2a2a2a">69</text>
<text class="w" x="548.8" y="104.21" font-size="6.9" text-anchor="end" fill="#2a2a2a">70</text>
<text class="w" x="548.8" y="93.12" font-size="6.9" text-anchor="end" fill="#2a2a2a">71</text>
<text class="w" x="548.8" y="82.03" font-size="6.9" text-anchor="end" fill="#2a2a2a">72</text>
<text class="w" x="548.8" y="70.94" font-size="6.9" text-anchor="end" fill="#2a2a2a">73</text>
<text class="w" x="548.8" y="59.85" font-size="6.9" text-anchor="end" fill="#2a2a2a">74</text>
<text class="w" x="548.8" y="48.76" font-size="6.9" text-anchor="end" fill="#2a2a2a">75</text>
<text class="w" x="548.8" y="37.67" font-size="6.9" text-anchor="end" fill="#2a2a2a">76</text>
<text class="w" x="548.8" y="26.58" font-size="6.9" text-anchor="end" fill="#2a2a2a">77</text>
<text class="w" x="548.8" y="15.49" font-size="6.9" text-anchor="end" fill="#2a2a2a">78</text>
<text class="w" x="548.8" y="4.4" font-size="6.9" text-anchor="end" fill="#2a2a2a">79</text>
<text class="w" transform="translate(538.8 61.75) rotate(-90)" font-size="7.9" text-anchor="middle" fill="#1e1e1e">Phase-level Jaccard</text>
<path d="M633.55 39.41V5.5H677.71V7.5" stroke="#4a4a4a" stroke-width="0.8" fill="none"/>
<text x="655.63" y="6.7" font-size="9.3" text-anchor="middle" fill="#1e1e1e">***</text>
<rect x="230.8" y="224.41" width="10" height="9.09" fill="#6fa8d2" stroke="#1f1f1f" stroke-width="0.7"/>
<rect x="245.52" y="211.04" width="10" height="22.46" fill="#a9d9ea" stroke="#1f1f1f" stroke-width="0.7"/>
<rect x="260.24" y="202" width="10" height="31.5" fill="#e0f2f8" stroke="#1f1f1f" stroke-width="0.7"/>
<rect x="274.96" y="189.02" width="10" height="44.48" fill="#f3e297" stroke="#1f1f1f" stroke-width="0.7"/>
<rect x="289.68" y="197.67" width="10" height="35.83" fill="#f9bb7e" stroke="#1f1f1f" stroke-width="0.7"/>
<rect x="304.4" y="185.09" width="10" height="48.41" fill="#f68f7c" stroke="#1f1f1f" stroke-width="0.7"/>
<rect x="319.12" y="200.82" width="10" height="32.68" fill="#dd6b8b" stroke="#1f1f1f" stroke-width="0.7"/>
<rect x="333.84" y="184.7" width="10" height="48.8" fill="#a9559c" stroke="#1f1f1f" stroke-width="0.7"/>
<rect x="348.56" y="145.77" width="10" height="87.73" fill="#5a4ea3" stroke="#1f1f1f" stroke-width="0.7"/>
<path d="M235.8 222.1V226.03M233.3 222.1H238.3M233.3 226.03H238.3" stroke="#1a1a1a" stroke-width="0.75" fill="none"/>
<path d="M250.52 208.73V212.66M248.02 208.73H253.02M248.02 212.66H253.02" stroke="#1a1a1a" stroke-width="0.75" fill="none"/>
<path d="M265.24 199.68V203.62M262.74 199.68H267.74M262.74 203.62H267.74" stroke="#1a1a1a" stroke-width="0.75" fill="none"/>
<path d="M279.96 186.71V190.64M277.46 186.71H282.46M277.46 190.64H282.46" stroke="#1a1a1a" stroke-width="0.75" fill="none"/>
<path d="M294.68 195.36V199.29M292.18 195.36H297.18M292.18 199.29H297.18" stroke="#1a1a1a" stroke-width="0.75" fill="none"/>
<path d="M309.4 182.78V186.71M306.9 182.78H311.9M306.9 186.71H311.9" stroke="#1a1a1a" stroke-width="0.75" fill="none"/>
<path d="M324.12 198.5V202.44M321.62 198.5H326.62M321.62 202.44H326.62" stroke="#1a1a1a" stroke-width="0.75" fill="none"/>
<path d="M338.84 182.38V186.31M336.34 182.38H341.34M336.34 186.31H341.34" stroke="#1a1a1a" stroke-width="0.75" fill="none"/>
<path d="M353.56 143.45V147.39M351.06 143.45H356.06M351.06 147.39H356.06" stroke="#1a1a1a" stroke-width="0.75" fill="none"/>
<path d="M228.35 123.4V233.5H360.85" stroke="#808080" stroke-width="1.0" fill="none"/>
<path d="M226.05 233.5H228.35M226.05 217.77H228.35M226.05 202.04H228.35M226.05 186.31H228.35M226.05 170.59H228.35M226.05 154.86H228.35M226.05 139.13H228.35M226.05 123.4H228.35" stroke="#666" stroke-width="0.8" fill="none"/>
<path d="M227.45 225.64H228.85M227.45 209.91H228.85M227.45 194.18H228.85M227.45 178.45H228.85M227.45 162.72H228.85M227.45 146.99H228.85M227.45 131.26H228.85" stroke="#333" stroke-width="0.9" fill="none"/>
<text class="w" x="224.65" y="235.3" font-size="6.9" text-anchor="end" fill="#2a2a2a">76</text>
<text class="w" x="224.65" y="219.57" font-size="6.9" text-anchor="end" fill="#2a2a2a">78</text>
<text class="w" x="224.65" y="203.84" font-size="6.9" text-anchor="end" fill="#2a2a2a">80</text>
<text class="w" x="224.65" y="188.11" font-size="6.9" text-anchor="end" fill="#2a2a2a">82</text>
<text class="w" x="224.65" y="172.39" font-size="6.9" text-anchor="end" fill="#2a2a2a">84</text>
<text class="w" x="224.65" y="156.66" font-size="6.9" text-anchor="end" fill="#2a2a2a">86</text>
<text class="w" x="224.65" y="140.93" font-size="6.9" text-anchor="end" fill="#2a2a2a">88</text>
<text class="w" x="224.65" y="125.2" font-size="6.9" text-anchor="end" fill="#2a2a2a">90</text>
<text class="w" transform="translate(214.65 182.15) rotate(-90)" font-size="7.9" text-anchor="middle" fill="#1e1e1e">Image-level Accuracy</text>
<path d="M338.84 180.38V131.4H353.56V139.6" stroke="#4a4a4a" stroke-width="0.8" fill="none"/>
<text x="346.2" y="131.9" font-size="9.3" text-anchor="middle" fill="#1e1e1e">***</text>
<rect x="392.65" y="211.83" width="10" height="21.67" fill="#6fa8d2" stroke="#1f1f1f" stroke-width="0.7"/>
<rect x="407.37" y="193.74" width="10" height="39.76" fill="#a9d9ea" stroke="#1f1f1f" stroke-width="0.7"/>
<rect x="422.09" y="194.53" width="10" height="38.97" fill="#e0f2f8" stroke="#1f1f1f" stroke-width="0.7"/>
<rect x="436.81" y="169.36" width="10" height="64.14" fill="#f3e297" stroke="#1f1f1f" stroke-width="0.7"/>
<rect x="451.53" y="180.37" width="10" height="53.13" fill="#f9bb7e" stroke="#1f1f1f" stroke-width="0.7"/>
<rect x="466.25" y="171.72" width="10" height="61.78" fill="#f68f7c" stroke="#1f1f1f" stroke-width="0.7"/>
<rect x="480.97" y="181.95" width="10" height="51.55" fill="#dd6b8b" stroke="#1f1f1f" stroke-width="0.7"/>
<rect x="495.69" y="162.29" width="10" height="71.21" fill="#a9559c" stroke="#1f1f1f" stroke-width="0.7"/>
<rect x="510.41" y="132.4" width="10" height="101.1" fill="#5a4ea3" stroke="#1f1f1f" stroke-width="0.7"/>
<path d="M397.65 209.75V213.21M395.15 209.75H400.15M395.15 213.21H400.15" stroke="#1a1a1a" stroke-width="0.75" fill="none"/>
<path d="M412.37 191.66V195.12M409.87 191.66H414.87M409.87 195.12H414.87" stroke="#1a1a1a" stroke-width="0.75" fill="none"/>
<path d="M427.09 192.45V195.91M424.59 192.45H429.59M424.59 195.91H429.59" stroke="#1a1a1a" stroke-width="0.75" fill="none"/>
<path d="M441.81 167.28V170.74M439.31 167.28H444.31M439.31 170.74H444.31" stroke="#1a1a1a" stroke-width="0.75" fill="none"/>
<path d="M456.53 178.29V181.75M454.03 178.29H459.03M454.03 181.75H459.03" stroke="#1a1a1a" stroke-width="0.75" fill="none"/>
<path d="M471.25 169.64V173.1M468.75 169.64H473.75M468.75 173.1H473.75" stroke="#1a1a1a" stroke-width="0.75" fill="none"/>
<path d="M485.97 179.87V183.33M483.47 179.87H488.47M483.47 183.33H488.47" stroke="#1a1a1a" stroke-width="0.75" fill="none"/>
<path d="M500.69 160.2V163.67M498.19 160.2H503.19M498.19 163.67H503.19" stroke="#1a1a1a" stroke-width="0.75" fill="none"/>
<path d="M515.41 130.32V133.78M512.91 130.32H517.91M512.91 133.78H517.91" stroke="#1a1a1a" stroke-width="0.75" fill="none"/>
<path d="M390.2 123.4V233.5H522.7" stroke="#808080" stroke-width="1.0" fill="none"/>
<path d="M387.9 233.5H390.2M387.9 217.77H390.2M387.9 202.04H390.2M387.9 186.31H390.2M387.9 170.59H390.2M387.9 154.86H390.2M387.9 139.13H390.2M387.9 123.4H390.2" stroke="#666" stroke-width="0.8" fill="none"/>
<path d="M389.3 225.64H390.7M389.3 209.91H390.7M389.3 194.18H390.7M389.3 178.45H390.7M389.3 162.72H390.7M389.3 146.99H390.7M389.3 131.26H390.7" stroke="#333" stroke-width="0.9" fill="none"/>
<text class="w" x="386.5" y="235.3" font-size="6.9" text-anchor="end" fill="#2a2a2a">76</text>
<text class="w" x="386.5" y="219.57" font-size="6.9" text-anchor="end" fill="#2a2a2a">78</text>
<text class="w" x="386.5" y="203.84" font-size="6.9" text-anchor="end" fill="#2a2a2a">80</text>
<text class="w" x="386.5" y="188.11" font-size="6.9" text-anchor="end" fill="#2a2a2a">82</text>
<text class="w" x="386.5" y="172.39" font-size="6.9" text-anchor="end" fill="#2a2a2a">84</text>
<text class="w" x="386.5" y="156.66" font-size="6.9" text-anchor="end" fill="#2a2a2a">86</text>
<text class="w" x="386.5" y="140.93" font-size="6.9" text-anchor="end" fill="#2a2a2a">88</text>
<text class="w" x="386.5" y="125.2" font-size="6.9" text-anchor="end" fill="#2a2a2a">90</text>
<text class="w" transform="translate(376.5 182.15) rotate(-90)" font-size="7.9" text-anchor="middle" fill="#1e1e1e">Video-level Accuracy</text>
<path d="M500.69 158.2V127.3H515.41V128.8" stroke="#4a4a4a" stroke-width="0.8" fill="none"/>
<text x="508.05" y="127.6" font-size="9.3" text-anchor="middle" fill="#1e1e1e">***</text>
<rect x="554.95" y="229.03" width="10" height="4.47" fill="#6fa8d2" stroke="#1f1f1f" stroke-width="0.7"/>
<rect x="569.67" y="207.7" width="10" height="25.8" fill="#a9d9ea" stroke="#1f1f1f" stroke-width="0.7"/>
<rect x="584.39" y="213.55" width="10" height="19.95" fill="#e0f2f8" stroke="#1f1f1f" stroke-width="0.7"/>
<rect x="599.11" y="190.15" width="10" height="43.35" fill="#f3e297" stroke="#1f1f1f" stroke-width="0.7"/>
<rect x="613.83" y="193.94" width="10" height="39.56" fill="#f9bb7e" stroke="#1f1f1f" stroke-width="0.7"/>
<rect x="628.55" y="171.57" width="10" height="61.93" fill="#f68f7c" stroke="#1f1f1f" stroke-width="0.7"/>
<rect x="643.27" y="197.72" width="10" height="35.78" fill="#dd6b8b" stroke="#1f1f1f" stroke-width="0.7"/>
<rect x="657.99" y="181.21" width="10" height="52.29" fill="#a9559c" stroke="#1f1f1f" stroke-width="0.7"/>
<rect x="672.71" y="143.02" width="10" height="90.48" fill="#5a4ea3" stroke="#1f1f1f" stroke-width="0.7"/>
<path d="M559.95 225.93V231.44M557.45 225.93H562.45M557.45 231.44H562.45" stroke="#1a1a1a" stroke-width="0.75" fill="none"/>
<path d="M574.67 204.6V210.1M572.17 204.6H577.17M572.17 210.1H577.17" stroke="#1a1a1a" stroke-width="0.75" fill="none"/>
<path d="M589.39 210.45V215.95M586.89 210.45H591.89M586.89 215.95H591.89" stroke="#1a1a1a" stroke-width="0.75" fill="none"/>
<path d="M604.11 187.05V192.56M601.61 187.05H606.61M601.61 192.56H606.61" stroke="#1a1a1a" stroke-width="0.75" fill="none"/>
<path d="M618.83 190.84V196.34M616.33 190.84H621.33M616.33 196.34H621.33" stroke="#1a1a1a" stroke-width="0.75" fill="none"/>
<path d="M633.55 168.47V173.98M631.05 168.47H636.05M631.05 173.98H636.05" stroke="#1a1a1a" stroke-width="0.75" fill="none"/>
<path d="M648.27 194.62V200.13M645.77 194.62H650.77M645.77 200.13H650.77" stroke="#1a1a1a" stroke-width="0.75" fill="none"/>
<path d="M662.99 178.11V183.61M660.49 178.11H665.49M660.49 183.61H665.49" stroke="#1a1a1a" stroke-width="0.75" fill="none"/>
<path d="M677.71 139.91V145.42M675.21 139.91H680.21M675.21 145.42H680.21" stroke="#1a1a1a" stroke-width="0.75" fill="none"/>
<path d="M552.5 123.4V233.5H685" stroke="#808080" stroke-width="1.0" fill="none"/>
<path d="M550.2 233.5H552.5M550.2 219.74H552.5M550.2 205.97H552.5M550.2 192.21H552.5M550.2 178.45H552.5M550.2 164.69H552.5M550.2 150.93H552.5M550.2 137.16H552.5M550.2 123.4H552.5" stroke="#666" stroke-width="0.8" fill="none"/>
<path d="M551.6 226.62H553M551.6 212.86H553M551.6 199.09H553M551.6 185.33H553M551.6 171.57H553M551.6 157.81H553M551.6 144.04H553M551.6 130.28H553" stroke="#333" stroke-width="0.9" fill="none"/>
<text class="w" x="548.8" y="235.3" font-size="6.9" text-anchor="end" fill="#2a2a2a">60</text>
<text class="w" x="548.8" y="221.54" font-size="6.9" text-anchor="end" fill="#2a2a2a">62</text>
<text class="w" x="548.8" y="207.78" font-size="6.9" text-anchor="end" fill="#2a2a2a">64</text>
<text class="w" x="548.8" y="194.01" font-size="6.9" text-anchor="end" fill="#2a2a2a">66</text>
<text class="w" x="548.8" y="180.25" font-size="6.9" text-anchor="end" fill="#2a2a2a">68</text>
<text class="w" x="548.8" y="166.49" font-size="6.9" text-anchor="end" fill="#2a2a2a">70</text>
<text class="w" x="548.8" y="152.73" font-size="6.9" text-anchor="end" fill="#2a2a2a">72</text>
<text class="w" x="548.8" y="138.96" font-size="6.9" text-anchor="end" fill="#2a2a2a">74</text>
<text class="w" x="548.8" y="125.2" font-size="6.9" text-anchor="end" fill="#2a2a2a">76</text>
<text class="w" transform="translate(538.8 182.15) rotate(-90)" font-size="7.9" text-anchor="middle" fill="#1e1e1e">Phase-level Jaccard</text>
<path d="M633.55 166.47V131.4H677.71V135.8" stroke="#4a4a4a" stroke-width="0.8" fill="none"/>
<text x="655.63" y="130.8" font-size="9.3" text-anchor="middle" fill="#1e1e1e">***</text>
<rect x="231.65" y="301.46" width="10" height="50.94" fill="#6fa8d2" stroke="#1f1f1f" stroke-width="0.7"/>
<rect x="246.31" y="299.02" width="10" height="53.38" fill="#a9d9ea" stroke="#1f1f1f" stroke-width="0.7"/>
<rect x="260.97" y="343.59" width="10" height="8.81" fill="#e0f2f8" stroke="#1f1f1f" stroke-width="0.7"/>
<rect x="275.63" y="272.77" width="10" height="79.63" fill="#f3e297" stroke="#1f1f1f" stroke-width="0.7"/>
<rect x="290.29" y="275.21" width="10" height="77.19" fill="#f9bb7e" stroke="#1f1f1f" stroke-width="0.7"/>
<rect x="304.95" y="284.37" width="10" height="68.03" fill="#f68f7c" stroke="#1f1f1f" stroke-width="0.7"/>
<rect x="319.61" y="278.26" width="10" height="74.14" fill="#dd6b8b" stroke="#1f1f1f" stroke-width="0.7"/>
<rect x="334.27" y="279.48" width="10" height="72.92" fill="#a9559c" stroke="#1f1f1f" stroke-width="0.7"/>
<rect x="348.93" y="259.95" width="10" height="92.45" fill="#5a4ea3" stroke="#1f1f1f" stroke-width="0.7"/>
<path d="M236.65 298.37V303.86M234.15 298.37H239.15M234.15 303.86H239.15" stroke="#1a1a1a" stroke-width="0.75" fill="none"/>
<path d="M251.31 295.92V301.42M248.81 295.92H253.81M248.81 301.42H253.81" stroke="#1a1a1a" stroke-width="0.75" fill="none"/>
<path d="M265.97 339.58V346.9M263.47 339.58H268.47M263.47 346.9H268.47" stroke="#1a1a1a" stroke-width="0.75" fill="none"/>
<path d="M280.63 269.98V274.86M278.13 269.98H283.13M278.13 274.86H283.13" stroke="#1a1a1a" stroke-width="0.75" fill="none"/>
<path d="M295.29 272.72V277M292.79 272.72H297.79M292.79 277H297.79" stroke="#1a1a1a" stroke-width="0.75" fill="none"/>
<path d="M309.95 281.58V286.46M307.45 281.58H312.45M307.45 286.46H312.45" stroke="#1a1a1a" stroke-width="0.75" fill="none"/>
<path d="M324.61 275.47V280.35M322.11 275.47H327.11M322.11 280.35H327.11" stroke="#1a1a1a" stroke-width="0.75" fill="none"/>
<path d="M339.27 276.69V281.58M336.77 276.69H341.77M336.77 281.58H341.77" stroke="#1a1a1a" stroke-width="0.75" fill="none"/>
<path d="M353.93 257.46V261.73M351.43 257.46H356.43M351.43 261.73H356.43" stroke="#1a1a1a" stroke-width="0.75" fill="none"/>
<path d="M229.2 242.5V352.4H361.7" stroke="#808080" stroke-width="1.0" fill="none"/>
<path d="M226.9 352.4H229.2M226.9 340.19H229.2M226.9 327.98H229.2M226.9 315.77H229.2M226.9 303.56H229.2M226.9 291.34H229.2M226.9 279.13H229.2M226.9 266.92H229.2M226.9 254.71H229.2M226.9 242.5H229.2" stroke="#666" stroke-width="0.8" fill="none"/>
<path d="M228.3 346.29H229.7M228.3 334.08H229.7M228.3 321.87H229.7M228.3 309.66H229.7M228.3 297.45H229.7M228.3 285.24H229.7M228.3 273.03H229.7M228.3 260.82H229.7M228.3 248.61H229.7" stroke="#333" stroke-width="0.9" fill="none"/>
<text class="w" x="225.5" y="354.2" font-size="6.9" text-anchor="end" fill="#2a2a2a">78</text>
<text class="w" x="225.5" y="341.99" font-size="6.9" text-anchor="end" fill="#2a2a2a">80</text>
<text class="w" x="225.5" y="329.78" font-size="6.9" text-anchor="end" fill="#2a2a2a">82</text>
<text class="w" x="225.5" y="317.57" font-size="6.9" text-anchor="end" fill="#2a2a2a">84</text>
<text class="w" x="225.5" y="305.36" font-size="6.9" text-anchor="end" fill="#2a2a2a">86</text>
<text class="w" x="225.5" y="293.14" font-size="6.9" text-anchor="end" fill="#2a2a2a">88</text>
<text class="w" x="225.5" y="280.93" font-size="6.9" text-anchor="end" fill="#2a2a2a">90</text>
<text class="w" x="225.5" y="268.72" font-size="6.9" text-anchor="end" fill="#2a2a2a">92</text>
<text class="w" x="225.5" y="256.51" font-size="6.9" text-anchor="end" fill="#2a2a2a">94</text>
<text class="w" x="225.5" y="244.3" font-size="6.9" text-anchor="end" fill="#2a2a2a">96</text>
<text class="w" transform="translate(215.5 301.15) rotate(-90)" font-size="7.9" text-anchor="middle" fill="#1e1e1e">Image-level Accuracy</text>
<path d="M280.63 267.98V250.2H353.93V256.1" stroke="#4a4a4a" stroke-width="0.8" fill="none"/>
<text x="317.28" y="249.8" font-size="9.3" text-anchor="middle" fill="#1e1e1e">***</text>
<rect x="393.5" y="303.91" width="10" height="48.49" fill="#6fa8d2" stroke="#1f1f1f" stroke-width="0.7"/>
<rect x="408.16" y="302.68" width="10" height="49.72" fill="#a9d9ea" stroke="#1f1f1f" stroke-width="0.7"/>
<rect x="422.82" y="347.25" width="10" height="5.15" fill="#e0f2f8" stroke="#1f1f1f" stroke-width="0.7"/>
<rect x="437.48" y="275.21" width="10" height="77.19" fill="#f3e297" stroke="#1f1f1f" stroke-width="0.7"/>
<rect x="452.14" y="278.87" width="10" height="73.53" fill="#f9bb7e" stroke="#1f1f1f" stroke-width="0.7"/>
<rect x="466.8" y="288.03" width="10" height="64.37" fill="#f68f7c" stroke="#1f1f1f" stroke-width="0.7"/>
<rect x="481.46" y="281.93" width="10" height="70.47" fill="#dd6b8b" stroke="#1f1f1f" stroke-width="0.7"/>
<rect x="496.12" y="282.54" width="10" height="69.86" fill="#a9559c" stroke="#1f1f1f" stroke-width="0.7"/>
<rect x="510.78" y="263" width="10" height="89.4" fill="#5a4ea3" stroke="#1f1f1f" stroke-width="0.7"/>
<path d="M398.5 300.5V306.61M396 300.5H401M396 306.61H401" stroke="#1a1a1a" stroke-width="0.75" fill="none"/>
<path d="M413.16 299.59V305.08M410.66 299.59H415.66M410.66 305.08H415.66" stroke="#1a1a1a" stroke-width="0.75" fill="none"/>
<path d="M427.82 343.24V350.57M425.32 343.24H430.32M425.32 350.57H430.32" stroke="#1a1a1a" stroke-width="0.75" fill="none"/>
<path d="M442.48 272.42V277.3M439.98 272.42H444.98M439.98 277.3H444.98" stroke="#1a1a1a" stroke-width="0.75" fill="none"/>
<path d="M457.14 276.08V280.97M454.64 276.08H459.64M454.64 280.97H459.64" stroke="#1a1a1a" stroke-width="0.75" fill="none"/>
<path d="M471.8 285.24V290.12M469.3 285.24H474.3M469.3 290.12H474.3" stroke="#1a1a1a" stroke-width="0.75" fill="none"/>
<path d="M486.46 279.13V284.02M483.96 279.13H488.96M483.96 284.02H488.96" stroke="#1a1a1a" stroke-width="0.75" fill="none"/>
<path d="M501.12 279.44V284.93M498.62 279.44H503.62M498.62 284.93H503.62" stroke="#1a1a1a" stroke-width="0.75" fill="none"/>
<path d="M515.78 260.82V264.48M513.28 260.82H518.28M513.28 264.48H518.28" stroke="#1a1a1a" stroke-width="0.75" fill="none"/>
<path d="M391.05 242.5V352.4H523.55" stroke="#808080" stroke-width="1.0" fill="none"/>
<path d="M388.75 352.4H391.05M388.75 340.19H391.05M388.75 327.98H391.05M388.75 315.77H391.05M388.75 303.56H391.05M388.75 291.34H391.05M388.75 279.13H391.05M388.75 266.92H391.05M388.75 254.71H391.05M388.75 242.5H391.05" stroke="#666" stroke-width="0.8" fill="none"/>
<path d="M390.15 346.29H391.55M390.15 334.08H391.55M390.15 321.87H391.55M390.15 309.66H391.55M390.15 297.45H391.55M390.15 285.24H391.55M390.15 273.03H391.55M390.15 260.82H391.55M390.15 248.61H391.55" stroke="#333" stroke-width="0.9" fill="none"/>
<text class="w" x="387.35" y="354.2" font-size="6.9" text-anchor="end" fill="#2a2a2a">78</text>
<text class="w" x="387.35" y="341.99" font-size="6.9" text-anchor="end" fill="#2a2a2a">80</text>
<text class="w" x="387.35" y="329.78" font-size="6.9" text-anchor="end" fill="#2a2a2a">82</text>
<text class="w" x="387.35" y="317.57" font-size="6.9" text-anchor="end" fill="#2a2a2a">84</text>
<text class="w" x="387.35" y="305.36" font-size="6.9" text-anchor="end" fill="#2a2a2a">86</text>
<text class="w" x="387.35" y="293.14" font-size="6.9" text-anchor="end" fill="#2a2a2a">88</text>
<text class="w" x="387.35" y="280.93" font-size="6.9" text-anchor="end" fill="#2a2a2a">90</text>
<text class="w" x="387.35" y="268.72" font-size="6.9" text-anchor="end" fill="#2a2a2a">92</text>
<text class="w" x="387.35" y="256.51" font-size="6.9" text-anchor="end" fill="#2a2a2a">94</text>
<text class="w" x="387.35" y="244.3" font-size="6.9" text-anchor="end" fill="#2a2a2a">96</text>
<text class="w" transform="translate(377.35 301.15) rotate(-90)" font-size="7.9" text-anchor="middle" fill="#1e1e1e">Video-level Accuracy</text>
<path d="M442.48 270.42V251.4H515.78V258.3" stroke="#4a4a4a" stroke-width="0.8" fill="none"/>
<text x="479.13" y="250.6" font-size="9.3" text-anchor="middle" fill="#1e1e1e">***</text>
<rect x="554.95" y="299.34" width="10" height="53.06" fill="#6fa8d2" stroke="#1f1f1f" stroke-width="0.7"/>
<rect x="569.61" y="304.39" width="10" height="48.01" fill="#a9d9ea" stroke="#1f1f1f" stroke-width="0.7"/>
<rect x="584.27" y="333.85" width="10" height="18.55" fill="#e0f2f8" stroke="#1f1f1f" stroke-width="0.7"/>
<rect x="598.93" y="280.44" width="10" height="71.96" fill="#f3e297" stroke="#1f1f1f" stroke-width="0.7"/>
<rect x="613.59" y="276.26" width="10" height="76.14" fill="#f9bb7e" stroke="#1f1f1f" stroke-width="0.7"/>
<rect x="628.25" y="292.31" width="10" height="60.09" fill="#f68f7c" stroke="#1f1f1f" stroke-width="0.7"/>
<rect x="642.91" y="281.31" width="10" height="71.09" fill="#dd6b8b" stroke="#1f1f1f" stroke-width="0.7"/>
<rect x="657.57" y="283.29" width="10" height="69.11" fill="#a9559c" stroke="#1f1f1f" stroke-width="0.7"/>
<rect x="672.23" y="257.14" width="10" height="95.26" fill="#5a4ea3" stroke="#1f1f1f" stroke-width="0.7"/>
<path d="M559.95 296.35V301.63M557.45 296.35H562.45M557.45 301.63H562.45" stroke="#1a1a1a" stroke-width="0.75" fill="none"/>
<path d="M574.61 301.41V306.68M572.11 301.41H577.11M572.11 306.68H577.11" stroke="#1a1a1a" stroke-width="0.75" fill="none"/>
<path d="M589.27 331.3V335.7M586.77 331.3H591.77M586.77 335.7H591.77" stroke="#1a1a1a" stroke-width="0.75" fill="none"/>
<path d="M603.93 278.11V282.06M601.43 278.11H606.43M601.43 282.06H606.43" stroke="#1a1a1a" stroke-width="0.75" fill="none"/>
<path d="M618.59 273.27V278.55M616.09 273.27H621.09M616.09 278.55H621.09" stroke="#1a1a1a" stroke-width="0.75" fill="none"/>
<path d="M633.25 289.32V294.59M630.75 289.32H635.75M630.75 294.59H635.75" stroke="#1a1a1a" stroke-width="0.75" fill="none"/>
<path d="M647.91 278.77V283.16M645.41 278.77H650.41M645.41 283.16H650.41" stroke="#1a1a1a" stroke-width="0.75" fill="none"/>
<path d="M662.57 280.31V285.58M660.07 280.31H665.07M660.07 285.58H665.07" stroke="#1a1a1a" stroke-width="0.75" fill="none"/>
<path d="M677.23 254.37V259.2M674.73 254.37H679.73M674.73 259.2H679.73" stroke="#1a1a1a" stroke-width="0.75" fill="none"/>
<path d="M552.5 242.5V352.4H685" stroke="#808080" stroke-width="1.0" fill="none"/>
<path d="M550.2 352.4H552.5M550.2 330.42H552.5M550.2 308.44H552.5M550.2 286.46H552.5M550.2 264.48H552.5M550.2 242.5H552.5" stroke="#666" stroke-width="0.8" fill="none"/>
<path d="M551.6 341.41H553M551.6 319.43H553M551.6 297.45H553M551.6 275.47H553M551.6 253.49H553" stroke="#333" stroke-width="0.9" fill="none"/>
<text class="w" x="548.8" y="354.2" font-size="6.9" text-anchor="end" fill="#2a2a2a">40</text>
<text class="w" x="548.8" y="332.22" font-size="6.9" text-anchor="end" fill="#2a2a2a">50</text>
<text class="w" x="548.8" y="310.24" font-size="6.9" text-anchor="end" fill="#2a2a2a">60</text>
<text class="w" x="548.8" y="288.26" font-size="6.9" text-anchor="end" fill="#2a2a2a">70</text>
<text class="w" x="548.8" y="266.28" font-size="6.9" text-anchor="end" fill="#2a2a2a">80</text>
<text class="w" x="548.8" y="244.3" font-size="6.9" text-anchor="end" fill="#2a2a2a">90</text>
<text class="w" transform="translate(538.8 301.15) rotate(-90)" font-size="7.9" text-anchor="middle" fill="#1e1e1e">Phase-level Jaccard</text>
<path d="M618.59 271.27V248.3H677.23V252.2" stroke="#4a4a4a" stroke-width="0.8" fill="none"/>
<text x="647.91" y="248.2" font-size="9.3" text-anchor="middle" fill="#1e1e1e">***</text>
<rect x="231.65" y="427.65" width="10" height="44.55" fill="#6fa8d2" stroke="#1f1f1f" stroke-width="0.7"/>
<rect x="246.31" y="463.54" width="10" height="8.66" fill="#a9d9ea" stroke="#1f1f1f" stroke-width="0.7"/>
<rect x="260.97" y="439.25" width="10" height="32.95" fill="#e0f2f8" stroke="#1f1f1f" stroke-width="0.7"/>
<rect x="275.63" y="421.46" width="10" height="50.74" fill="#f3e297" stroke="#1f1f1f" stroke-width="0.7"/>
<rect x="290.29" y="418.88" width="10" height="53.32" fill="#f9bb7e" stroke="#1f1f1f" stroke-width="0.7"/>
<rect x="304.95" y="434.47" width="10" height="37.73" fill="#f68f7c" stroke="#1f1f1f" stroke-width="0.7"/>
<rect x="319.61" y="428.67" width="10" height="43.53" fill="#dd6b8b" stroke="#1f1f1f" stroke-width="0.7"/>
<rect x="334.27" y="427.26" width="10" height="44.94" fill="#a9559c" stroke="#1f1f1f" stroke-width="0.7"/>
<rect x="348.93" y="382.52" width="10" height="89.68" fill="#5a4ea3" stroke="#1f1f1f" stroke-width="0.7"/>
<path d="M236.65 425.34V429.26M234.15 425.34H239.15M234.15 429.26H239.15" stroke="#1a1a1a" stroke-width="0.75" fill="none"/>
<path d="M251.31 460.84V465.54M248.81 460.84H253.81M248.81 465.54H253.81" stroke="#1a1a1a" stroke-width="0.75" fill="none"/>
<path d="M265.97 436.94V440.86M263.47 436.94H268.47M263.47 440.86H268.47" stroke="#1a1a1a" stroke-width="0.75" fill="none"/>
<path d="M280.63 419.15V423.07M278.13 419.15H283.13M278.13 423.07H283.13" stroke="#1a1a1a" stroke-width="0.75" fill="none"/>
<path d="M295.29 416.96V420.09M292.79 416.96H297.79M292.79 420.09H297.79" stroke="#1a1a1a" stroke-width="0.75" fill="none"/>
<path d="M309.95 432.16V436.08M307.45 432.16H312.45M307.45 436.08H312.45" stroke="#1a1a1a" stroke-width="0.75" fill="none"/>
<path d="M324.61 425.97V430.67M322.11 425.97H327.11M322.11 430.67H327.11" stroke="#1a1a1a" stroke-width="0.75" fill="none"/>
<path d="M339.27 424.95V428.87M336.77 424.95H341.77M336.77 428.87H341.77" stroke="#1a1a1a" stroke-width="0.75" fill="none"/>
<path d="M353.93 380.6V383.73M351.43 380.6H356.43M351.43 383.73H356.43" stroke="#1a1a1a" stroke-width="0.75" fill="none"/>
<path d="M229.2 362.5V472.2H361.7" stroke="#808080" stroke-width="1.0" fill="none"/>
<path d="M226.9 472.2H229.2M226.9 456.53H229.2M226.9 440.86H229.2M226.9 425.19H229.2M226.9 409.51H229.2M226.9 393.84H229.2M226.9 378.17H229.2M226.9 362.5H229.2" stroke="#666" stroke-width="0.8" fill="none"/>
<path d="M228.3 464.36H229.7M228.3 448.69H229.7M228.3 433.02H229.7M228.3 417.35H229.7M228.3 401.68H229.7M228.3 386.01H229.7M228.3 370.34H229.7" stroke="#333" stroke-width="0.9" fill="none"/>
<text class="w" x="225.5" y="474" font-size="6.9" text-anchor="end" fill="#2a2a2a">76</text>
<text class="w" x="225.5" y="458.33" font-size="6.9" text-anchor="end" fill="#2a2a2a">78</text>
<text class="w" x="225.5" y="442.66" font-size="6.9" text-anchor="end" fill="#2a2a2a">80</text>
<text class="w" x="225.5" y="426.99" font-size="6.9" text-anchor="end" fill="#2a2a2a">82</text>
<text class="w" x="225.5" y="411.31" font-size="6.9" text-anchor="end" fill="#2a2a2a">84</text>
<text class="w" x="225.5" y="395.64" font-size="6.9" text-anchor="end" fill="#2a2a2a">86</text>
<text class="w" x="225.5" y="379.97" font-size="6.9" text-anchor="end" fill="#2a2a2a">88</text>
<text class="w" x="225.5" y="364.3" font-size="6.9" text-anchor="end" fill="#2a2a2a">90</text>
<text class="w" transform="translate(215.5 421.05) rotate(-90)" font-size="7.9" text-anchor="middle" fill="#1e1e1e">Image-level Accuracy</text>
<path d="M295.29 414.96V369.4H353.93V377.7" stroke="#4a4a4a" stroke-width="0.8" fill="none"/>
<text x="324.61" y="369.4" font-size="9.3" text-anchor="middle" fill="#1e1e1e">***</text>
<rect x="393.5" y="425.54" width="10" height="46.66" fill="#6fa8d2" stroke="#1f1f1f" stroke-width="0.7"/>
<rect x="408.16" y="462.52" width="10" height="9.68" fill="#a9d9ea" stroke="#1f1f1f" stroke-width="0.7"/>
<rect x="422.82" y="437.29" width="10" height="34.91" fill="#e0f2f8" stroke="#1f1f1f" stroke-width="0.7"/>
<rect x="437.48" y="417.7" width="10" height="54.5" fill="#f3e297" stroke="#1f1f1f" stroke-width="0.7"/>
<rect x="452.14" y="415.74" width="10" height="56.46" fill="#f9bb7e" stroke="#1f1f1f" stroke-width="0.7"/>
<rect x="466.8" y="433.06" width="10" height="39.14" fill="#f68f7c" stroke="#1f1f1f" stroke-width="0.7"/>
<rect x="481.46" y="425.14" width="10" height="47.06" fill="#dd6b8b" stroke="#1f1f1f" stroke-width="0.7"/>
<rect x="496.12" y="424.6" width="10" height="47.6" fill="#a9559c" stroke="#1f1f1f" stroke-width="0.7"/>
<rect x="510.78" y="379.3" width="10" height="92.9" fill="#5a4ea3" stroke="#1f1f1f" stroke-width="0.7"/>
<path d="M398.5 423.23V427.14M396 423.23H401M396 427.14H401" stroke="#1a1a1a" stroke-width="0.75" fill="none"/>
<path d="M413.16 460.21V464.13M410.66 460.21H415.66M410.66 464.13H415.66" stroke="#1a1a1a" stroke-width="0.75" fill="none"/>
<path d="M427.82 435.37V438.51M425.32 435.37H430.32M425.32 438.51H430.32" stroke="#1a1a1a" stroke-width="0.75" fill="none"/>
<path d="M442.48 415.78V418.92M439.98 415.78H444.98M439.98 418.92H444.98" stroke="#1a1a1a" stroke-width="0.75" fill="none"/>
<path d="M457.14 413.43V417.35M454.64 413.43H459.64M454.64 417.35H459.64" stroke="#1a1a1a" stroke-width="0.75" fill="none"/>
<path d="M471.8 430.75V434.67M469.3 430.75H474.3M469.3 434.67H474.3" stroke="#1a1a1a" stroke-width="0.75" fill="none"/>
<path d="M486.46 422.84V426.75M483.96 422.84H488.96M483.96 426.75H488.96" stroke="#1a1a1a" stroke-width="0.75" fill="none"/>
<path d="M501.12 422.29V426.2M498.62 422.29H503.62M498.62 426.2H503.62" stroke="#1a1a1a" stroke-width="0.75" fill="none"/>
<path d="M515.78 377.78V380.13M513.28 377.78H518.28M513.28 380.13H518.28" stroke="#1a1a1a" stroke-width="0.75" fill="none"/>
<path d="M391.05 362.5V472.2H523.55" stroke="#808080" stroke-width="1.0" fill="none"/>
<path d="M388.75 472.2H391.05M388.75 456.53H391.05M388.75 440.86H391.05M388.75 425.19H391.05M388.75 409.51H391.05M388.75 393.84H391.05M388.75 378.17H391.05M388.75 362.5H391.05" stroke="#666" stroke-width="0.8" fill="none"/>
<path d="M390.15 464.36H391.55M390.15 448.69H391.55M390.15 433.02H391.55M390.15 417.35H391.55M390.15 401.68H391.55M390.15 386.01H391.55M390.15 370.34H391.55" stroke="#333" stroke-width="0.9" fill="none"/>
<text class="w" x="387.35" y="474" font-size="6.9" text-anchor="end" fill="#2a2a2a">76</text>
<text class="w" x="387.35" y="458.33" font-size="6.9" text-anchor="end" fill="#2a2a2a">78</text>
<text class="w" x="387.35" y="442.66" font-size="6.9" text-anchor="end" fill="#2a2a2a">80</text>
<text class="w" x="387.35" y="426.99" font-size="6.9" text-anchor="end" fill="#2a2a2a">82</text>
<text class="w" x="387.35" y="411.31" font-size="6.9" text-anchor="end" fill="#2a2a2a">84</text>
<text class="w" x="387.35" y="395.64" font-size="6.9" text-anchor="end" fill="#2a2a2a">86</text>
<text class="w" x="387.35" y="379.97" font-size="6.9" text-anchor="end" fill="#2a2a2a">88</text>
<text class="w" x="387.35" y="364.3" font-size="6.9" text-anchor="end" fill="#2a2a2a">90</text>
<text class="w" transform="translate(377.35 421.05) rotate(-90)" font-size="7.9" text-anchor="middle" fill="#1e1e1e">Video-level Accuracy</text>
<path d="M457.14 411.43V371.8H515.78V374.8" stroke="#4a4a4a" stroke-width="0.8" fill="none"/>
<text x="486.46" y="370.2" font-size="9.3" text-anchor="middle" fill="#1e1e1e">***</text>
<rect x="554.95" y="393.41" width="10" height="78.79" fill="#6fa8d2" stroke="#1f1f1f" stroke-width="0.7"/>
<rect x="569.61" y="467.85" width="10" height="4.35" fill="#a9d9ea" stroke="#1f1f1f" stroke-width="0.7"/>
<rect x="584.27" y="452.18" width="10" height="20.02" fill="#e0f2f8" stroke="#1f1f1f" stroke-width="0.7"/>
<rect x="598.93" y="425.93" width="10" height="46.27" fill="#f3e297" stroke="#1f1f1f" stroke-width="0.7"/>
<rect x="613.59" y="445.12" width="10" height="27.08" fill="#f9bb7e" stroke="#1f1f1f" stroke-width="0.7"/>
<rect x="628.25" y="443.56" width="10" height="28.64" fill="#f68f7c" stroke="#1f1f1f" stroke-width="0.7"/>
<rect x="642.91" y="449.83" width="10" height="22.37" fill="#dd6b8b" stroke="#1f1f1f" stroke-width="0.7"/>
<rect x="657.57" y="447.08" width="10" height="25.12" fill="#a9559c" stroke="#1f1f1f" stroke-width="0.7"/>
<rect x="672.23" y="387.92" width="10" height="84.28" fill="#5a4ea3" stroke="#1f1f1f" stroke-width="0.7"/>
<path d="M559.95 386.79V399.33M557.45 386.79H562.45M557.45 399.33H562.45" stroke="#1a1a1a" stroke-width="0.75" fill="none"/>
<path d="M574.61 463.58V471.42M572.11 463.58H577.11M572.11 471.42H577.11" stroke="#1a1a1a" stroke-width="0.75" fill="none"/>
<path d="M589.27 447.13V456.53M586.77 447.13H591.77M586.77 456.53H591.77" stroke="#1a1a1a" stroke-width="0.75" fill="none"/>
<path d="M603.93 420.09V431.06M601.43 420.09H606.43M601.43 431.06H606.43" stroke="#1a1a1a" stroke-width="0.75" fill="none"/>
<path d="M618.59 440.07V449.48M616.09 440.07H621.09M616.09 449.48H621.09" stroke="#1a1a1a" stroke-width="0.75" fill="none"/>
<path d="M633.25 440.07V446.34M630.75 440.07H635.75M630.75 446.34H635.75" stroke="#1a1a1a" stroke-width="0.75" fill="none"/>
<path d="M647.91 443.99V454.96M645.41 443.99H650.41M645.41 454.96H650.41" stroke="#1a1a1a" stroke-width="0.75" fill="none"/>
<path d="M662.57 444.38V449.08M660.07 444.38H665.07M660.07 449.08H665.07" stroke="#1a1a1a" stroke-width="0.75" fill="none"/>
<path d="M677.23 383.66V391.49M674.73 383.66H679.73M674.73 391.49H679.73" stroke="#1a1a1a" stroke-width="0.75" fill="none"/>
<path d="M552.5 362.5V472.2H685" stroke="#808080" stroke-width="1.0" fill="none"/>
<path d="M550.2 472.2H552.5M550.2 456.53H552.5M550.2 440.86H552.5M550.2 425.19H552.5M550.2 409.51H552.5M550.2 393.84H552.5M550.2 378.17H552.5M550.2 362.5H552.5" stroke="#666" stroke-width="0.8" fill="none"/>
<path d="M551.6 464.36H553M551.6 448.69H553M551.6 433.02H553M551.6 417.35H553M551.6 401.68H553M551.6 386.01H553M551.6 370.34H553" stroke="#333" stroke-width="0.9" fill="none"/>
<text class="w" x="548.8" y="474" font-size="6.9" text-anchor="end" fill="#2a2a2a">56</text>
<text class="w" x="548.8" y="458.33" font-size="6.9" text-anchor="end" fill="#2a2a2a">58</text>
<text class="w" x="548.8" y="442.66" font-size="6.9" text-anchor="end" fill="#2a2a2a">60</text>
<text class="w" x="548.8" y="426.99" font-size="6.9" text-anchor="end" fill="#2a2a2a">62</text>
<text class="w" x="548.8" y="411.31" font-size="6.9" text-anchor="end" fill="#2a2a2a">64</text>
<text class="w" x="548.8" y="395.64" font-size="6.9" text-anchor="end" fill="#2a2a2a">66</text>
<text class="w" x="548.8" y="379.97" font-size="6.9" text-anchor="end" fill="#2a2a2a">68</text>
<text class="w" x="548.8" y="364.3" font-size="6.9" text-anchor="end" fill="#2a2a2a">70</text>
<text class="w" transform="translate(538.8 421.05) rotate(-90)" font-size="7.9" text-anchor="middle" fill="#1e1e1e">Phase-level Jaccard</text>
<path d="M559.95 385.6V374.8H677.23V380.1" stroke="#4a4a4a" stroke-width="0.8" fill="none"/>
<text x="618.59" y="371.6" font-size="9.3" text-anchor="middle" fill="#1e1e1e">***</text>
<rect x="231.65" y="547.87" width="10" height="43.73" fill="#6fa8d2" stroke="#1f1f1f" stroke-width="0.7"/>
<rect x="246.31" y="558.2" width="10" height="33.4" fill="#a9d9ea" stroke="#1f1f1f" stroke-width="0.7"/>
<rect x="260.97" y="576.11" width="10" height="15.49" fill="#e0f2f8" stroke="#1f1f1f" stroke-width="0.7"/>
<rect x="275.63" y="538.92" width="10" height="52.68" fill="#f3e297" stroke="#1f1f1f" stroke-width="0.7"/>
<rect x="290.29" y="547.87" width="10" height="43.73" fill="#f9bb7e" stroke="#1f1f1f" stroke-width="0.7"/>
<rect x="304.95" y="545.11" width="10" height="46.49" fill="#f68f7c" stroke="#1f1f1f" stroke-width="0.7"/>
<rect x="319.61" y="542.36" width="10" height="49.24" fill="#dd6b8b" stroke="#1f1f1f" stroke-width="0.7"/>
<rect x="334.27" y="549.94" width="10" height="41.66" fill="#a9559c" stroke="#1f1f1f" stroke-width="0.7"/>
<rect x="348.93" y="501.04" width="10" height="90.56" fill="#5a4ea3" stroke="#1f1f1f" stroke-width="0.7"/>
<path d="M236.65 544.49V550.55M234.15 544.49H239.15M234.15 550.55H239.15" stroke="#1a1a1a" stroke-width="0.75" fill="none"/>
<path d="M251.31 554.82V560.88M248.81 554.82H253.81M248.81 560.88H253.81" stroke="#1a1a1a" stroke-width="0.75" fill="none"/>
<path d="M265.97 572.73V578.79M263.47 572.73H268.47M263.47 578.79H268.47" stroke="#1a1a1a" stroke-width="0.75" fill="none"/>
<path d="M280.63 535.54V541.6M278.13 535.54H283.13M278.13 541.6H283.13" stroke="#1a1a1a" stroke-width="0.75" fill="none"/>
<path d="M295.29 544.49V550.55M292.79 544.49H297.79M292.79 550.55H297.79" stroke="#1a1a1a" stroke-width="0.75" fill="none"/>
<path d="M309.95 541.73V547.8M307.45 541.73H312.45M307.45 547.8H312.45" stroke="#1a1a1a" stroke-width="0.75" fill="none"/>
<path d="M324.61 538.98V545.04M322.11 538.98H327.11M322.11 545.04H327.11" stroke="#1a1a1a" stroke-width="0.75" fill="none"/>
<path d="M339.27 546.56V552.62M336.77 546.56H341.77M336.77 552.62H341.77" stroke="#1a1a1a" stroke-width="0.75" fill="none"/>
<path d="M353.93 497.93V503.44M351.43 497.93H356.43M351.43 503.44H356.43" stroke="#1a1a1a" stroke-width="0.75" fill="none"/>
<path d="M229.2 481.4V591.6H361.7" stroke="#808080" stroke-width="1.0" fill="none"/>
<path d="M226.9 591.6H229.2M226.9 577.83H229.2M226.9 564.05H229.2M226.9 550.27H229.2M226.9 536.5H229.2M226.9 522.73H229.2M226.9 508.95H229.2M226.9 495.17H229.2M226.9 481.4H229.2" stroke="#666" stroke-width="0.8" fill="none"/>
<path d="M228.3 584.71H229.7M228.3 570.94H229.7M228.3 557.16H229.7M228.3 543.39H229.7M228.3 529.61H229.7M228.3 515.84H229.7M228.3 502.06H229.7M228.3 488.29H229.7" stroke="#333" stroke-width="0.9" fill="none"/>
<text class="w" x="225.5" y="593.4" font-size="6.9" text-anchor="end" fill="#2a2a2a">65</text>
<text class="w" x="225.5" y="579.62" font-size="6.9" text-anchor="end" fill="#2a2a2a">66</text>
<text class="w" x="225.5" y="565.85" font-size="6.9" text-anchor="end" fill="#2a2a2a">67</text>
<text class="w" x="225.5" y="552.07" font-size="6.9" text-anchor="end" fill="#2a2a2a">68</text>
<text class="w" x="225.5" y="538.3" font-size="6.9" text-anchor="end" fill="#2a2a2a">69</text>
<text class="w" x="225.5" y="524.52" font-size="6.9" text-anchor="end" fill="#2a2a2a">70</text>
<text class="w" x="225.5" y="510.75" font-size="6.9" text-anchor="end" fill="#2a2a2a">71</text>
<text class="w" x="225.5" y="496.97" font-size="6.9" text-anchor="end" fill="#2a2a2a">72</text>
<text class="w" x="225.5" y="483.2" font-size="6.9" text-anchor="end" fill="#2a2a2a">73</text>
<text class="w" transform="translate(215.5 540.2) rotate(-90)" font-size="7.9" text-anchor="middle" fill="#1e1e1e">Image-level Accuracy</text>
<path d="M280.63 533.54V487.4H353.93V493.8" stroke="#4a4a4a" stroke-width="0.8" fill="none"/>
<text x="317.28" y="487.4" font-size="9.3" text-anchor="middle" fill="#1e1e1e">***</text>
<rect x="393.5" y="552.69" width="10" height="38.91" fill="#6fa8d2" stroke="#1f1f1f" stroke-width="0.7"/>
<rect x="408.16" y="562.33" width="10" height="29.27" fill="#a9d9ea" stroke="#1f1f1f" stroke-width="0.7"/>
<rect x="422.82" y="576.11" width="10" height="15.49" fill="#e0f2f8" stroke="#1f1f1f" stroke-width="0.7"/>
<rect x="437.48" y="538.23" width="10" height="53.37" fill="#f3e297" stroke="#1f1f1f" stroke-width="0.7"/>
<rect x="452.14" y="545.11" width="10" height="46.49" fill="#f9bb7e" stroke="#1f1f1f" stroke-width="0.7"/>
<rect x="466.8" y="547.18" width="10" height="44.42" fill="#f68f7c" stroke="#1f1f1f" stroke-width="0.7"/>
<rect x="481.46" y="540.98" width="10" height="50.62" fill="#dd6b8b" stroke="#1f1f1f" stroke-width="0.7"/>
<rect x="496.12" y="556.82" width="10" height="34.78" fill="#a9559c" stroke="#1f1f1f" stroke-width="0.7"/>
<rect x="510.78" y="501.72" width="10" height="89.88" fill="#5a4ea3" stroke="#1f1f1f" stroke-width="0.7"/>
<path d="M398.5 549.31V555.37M396 549.31H401M396 555.37H401" stroke="#1a1a1a" stroke-width="0.75" fill="none"/>
<path d="M413.16 558.54V565.43M410.66 558.54H415.66M410.66 565.43H415.66" stroke="#1a1a1a" stroke-width="0.75" fill="none"/>
<path d="M427.82 572.73V578.79M425.32 572.73H430.32M425.32 578.79H430.32" stroke="#1a1a1a" stroke-width="0.75" fill="none"/>
<path d="M442.48 534.85V540.91M439.98 534.85H444.98M439.98 540.91H444.98" stroke="#1a1a1a" stroke-width="0.75" fill="none"/>
<path d="M457.14 541.73V547.8M454.64 541.73H459.64M454.64 547.8H459.64" stroke="#1a1a1a" stroke-width="0.75" fill="none"/>
<path d="M471.8 543.8V549.86M469.3 543.8H474.3M469.3 549.86H474.3" stroke="#1a1a1a" stroke-width="0.75" fill="none"/>
<path d="M486.46 537.19V544.08M483.96 537.19H488.96M483.96 544.08H488.96" stroke="#1a1a1a" stroke-width="0.75" fill="none"/>
<path d="M501.12 553.72V559.23M498.62 553.72H503.62M498.62 559.23H503.62" stroke="#1a1a1a" stroke-width="0.75" fill="none"/>
<path d="M515.78 498.62V504.13M513.28 498.62H518.28M513.28 504.13H518.28" stroke="#1a1a1a" stroke-width="0.75" fill="none"/>
<path d="M391.05 481.4V591.6H523.55" stroke="#808080" stroke-width="1.0" fill="none"/>
<path d="M388.75 591.6H391.05M388.75 577.83H391.05M388.75 564.05H391.05M388.75 550.27H391.05M388.75 536.5H391.05M388.75 522.73H391.05M388.75 508.95H391.05M388.75 495.17H391.05M388.75 481.4H391.05" stroke="#666" stroke-width="0.8" fill="none"/>
<path d="M390.15 584.71H391.55M390.15 570.94H391.55M390.15 557.16H391.55M390.15 543.39H391.55M390.15 529.61H391.55M390.15 515.84H391.55M390.15 502.06H391.55M390.15 488.29H391.55" stroke="#333" stroke-width="0.9" fill="none"/>
<text class="w" x="387.35" y="593.4" font-size="6.9" text-anchor="end" fill="#2a2a2a">68</text>
<text class="w" x="387.35" y="579.62" font-size="6.9" text-anchor="end" fill="#2a2a2a">69</text>
<text class="w" x="387.35" y="565.85" font-size="6.9" text-anchor="end" fill="#2a2a2a">70</text>
<text class="w" x="387.35" y="552.07" font-size="6.9" text-anchor="end" fill="#2a2a2a">71</text>
<text class="w" x="387.35" y="538.3" font-size="6.9" text-anchor="end" fill="#2a2a2a">72</text>
<text class="w" x="387.35" y="524.52" font-size="6.9" text-anchor="end" fill="#2a2a2a">73</text>
<text class="w" x="387.35" y="510.75" font-size="6.9" text-anchor="end" fill="#2a2a2a">74</text>
<text class="w" x="387.35" y="496.97" font-size="6.9" text-anchor="end" fill="#2a2a2a">75</text>
<text class="w" x="387.35" y="483.2" font-size="6.9" text-anchor="end" fill="#2a2a2a">76</text>
<text class="w" transform="translate(377.35 540.2) rotate(-90)" font-size="7.9" text-anchor="middle" fill="#1e1e1e">Video-level Accuracy</text>
<path d="M442.48 532.85V485.3H515.78V494.7" stroke="#4a4a4a" stroke-width="0.8" fill="none"/>
<text x="479.13" y="486.2" font-size="9.3" text-anchor="middle" fill="#1e1e1e">***</text>
<rect x="554.95" y="552.61" width="10" height="38.99" fill="#6fa8d2" stroke="#1f1f1f" stroke-width="0.7"/>
<rect x="569.61" y="572.67" width="10" height="18.93" fill="#a9d9ea" stroke="#1f1f1f" stroke-width="0.7"/>
<rect x="584.27" y="567.71" width="10" height="23.89" fill="#e0f2f8" stroke="#1f1f1f" stroke-width="0.7"/>
<rect x="598.93" y="559.77" width="10" height="31.83" fill="#f3e297" stroke="#1f1f1f" stroke-width="0.7"/>
<rect x="613.59" y="553.71" width="10" height="37.89" fill="#f9bb7e" stroke="#1f1f1f" stroke-width="0.7"/>
<rect x="628.25" y="546.77" width="10" height="44.83" fill="#f68f7c" stroke="#1f1f1f" stroke-width="0.7"/>
<rect x="642.91" y="535.53" width="10" height="56.07" fill="#dd6b8b" stroke="#1f1f1f" stroke-width="0.7"/>
<rect x="657.57" y="547.65" width="10" height="43.95" fill="#a9559c" stroke="#1f1f1f" stroke-width="0.7"/>
<rect x="672.23" y="500.48" width="10" height="91.12" fill="#5a4ea3" stroke="#1f1f1f" stroke-width="0.7"/>
<path d="M559.95 546.75V557.77M557.45 546.75H562.45M557.45 557.77H562.45" stroke="#1a1a1a" stroke-width="0.75" fill="none"/>
<path d="M574.61 567.91V576.72M572.11 567.91H577.11M572.11 576.72H577.11" stroke="#1a1a1a" stroke-width="0.75" fill="none"/>
<path d="M589.27 562.4V572.32M586.77 562.4H591.77M586.77 572.32H591.77" stroke="#1a1a1a" stroke-width="0.75" fill="none"/>
<path d="M603.93 554.46V564.38M601.43 554.46H606.43M601.43 564.38H606.43" stroke="#1a1a1a" stroke-width="0.75" fill="none"/>
<path d="M618.59 548.4V558.32M616.09 548.4H621.09M616.09 558.32H621.09" stroke="#1a1a1a" stroke-width="0.75" fill="none"/>
<path d="M633.25 540.91V551.93M630.75 540.91H635.75M630.75 551.93H635.75" stroke="#1a1a1a" stroke-width="0.75" fill="none"/>
<path d="M647.91 530.22V540.14M645.41 530.22H650.41M645.41 540.14H650.41" stroke="#1a1a1a" stroke-width="0.75" fill="none"/>
<path d="M662.57 541.24V553.36M660.07 541.24H665.07M660.07 553.36H665.07" stroke="#1a1a1a" stroke-width="0.75" fill="none"/>
<path d="M677.23 495.73V504.54M674.73 495.73H679.73M674.73 504.54H679.73" stroke="#1a1a1a" stroke-width="0.75" fill="none"/>
<path d="M552.5 481.4V591.6H685" stroke="#808080" stroke-width="1.0" fill="none"/>
<path d="M550.2 591.6H552.5M550.2 580.58H552.5M550.2 569.56H552.5M550.2 558.54H552.5M550.2 547.52H552.5M550.2 536.5H552.5M550.2 525.48H552.5M550.2 514.46H552.5M550.2 503.44H552.5M550.2 492.42H552.5M550.2 481.4H552.5" stroke="#666" stroke-width="0.8" fill="none"/>
<path d="M551.6 586.09H553M551.6 575.07H553M551.6 564.05H553M551.6 553.03H553M551.6 542.01H553M551.6 530.99H553M551.6 519.97H553M551.6 508.95H553M551.6 497.93H553M551.6 486.91H553" stroke="#333" stroke-width="0.9" fill="none"/>
<text class="w" x="548.8" y="593.4" font-size="6.9" text-anchor="end" fill="#2a2a2a">48</text>
<text class="w" x="548.8" y="582.38" font-size="6.9" text-anchor="end" fill="#2a2a2a">49</text>
<text class="w" x="548.8" y="571.36" font-size="6.9" text-anchor="end" fill="#2a2a2a">50</text>
<text class="w" x="548.8" y="560.34" font-size="6.9" text-anchor="end" fill="#2a2a2a">51</text>
<text class="w" x="548.8" y="549.32" font-size="6.9" text-anchor="end" fill="#2a2a2a">52</text>
<text class="w" x="548.8" y="538.3" font-size="6.9" text-anchor="end" fill="#2a2a2a">53</text>
<text class="w" x="548.8" y="527.28" font-size="6.9" text-anchor="end" fill="#2a2a2a">54</text>
<text class="w" x="548.8" y="516.26" font-size="6.9" text-anchor="end" fill="#2a2a2a">55</text>
<text class="w" x="548.8" y="505.24" font-size="6.9" text-anchor="end" fill="#2a2a2a">56</text>
<text class="w" x="548.8" y="494.22" font-size="6.9" text-anchor="end" fill="#2a2a2a">57</text>
<text class="w" x="548.8" y="483.2" font-size="6.9" text-anchor="end" fill="#2a2a2a">58</text>
<text class="w" transform="translate(538.8 540.2) rotate(-90)" font-size="7.9" text-anchor="middle" fill="#1e1e1e">Phase-level Jaccard</text>
<path d="M647.91 528.22V484.3H677.23V493.4" stroke="#4a4a4a" stroke-width="0.8" fill="none"/>
<text x="662.57" y="484.6" font-size="9.3" text-anchor="middle" fill="#1e1e1e">***</text>
<rect x="230.8" y="631.43" width="10" height="79.07" fill="#6fa8d2" stroke="#1f1f1f" stroke-width="0.7"/>
<rect x="245.46" y="628.42" width="10" height="82.08" fill="#a9d9ea" stroke="#1f1f1f" stroke-width="0.7"/>
<rect x="260.12" y="687.9" width="10" height="22.6" fill="#e0f2f8" stroke="#1f1f1f" stroke-width="0.7"/>
<rect x="274.78" y="629.97" width="10" height="80.53" fill="#f3e297" stroke="#1f1f1f" stroke-width="0.7"/>
<rect x="289.44" y="631.43" width="10" height="79.07" fill="#f9bb7e" stroke="#1f1f1f" stroke-width="0.7"/>
<rect x="304.1" y="622.86" width="10" height="87.64" fill="#f68f7c" stroke="#1f1f1f" stroke-width="0.7"/>
<rect x="318.76" y="631.61" width="10" height="78.89" fill="#dd6b8b" stroke="#1f1f1f" stroke-width="0.7"/>
<rect x="333.42" y="623.23" width="10" height="87.27" fill="#a9559c" stroke="#1f1f1f" stroke-width="0.7"/>
<rect x="348.08" y="618.22" width="10" height="92.28" fill="#5a4ea3" stroke="#1f1f1f" stroke-width="0.7"/>
<path d="M235.8 627.89V634.26M233.3 627.89H238.3M233.3 634.26H238.3" stroke="#1a1a1a" stroke-width="0.75" fill="none"/>
<path d="M250.46 624.43V631.71M247.96 624.43H252.96M247.96 631.71H252.96" stroke="#1a1a1a" stroke-width="0.75" fill="none"/>
<path d="M265.12 683.9V691.19M262.62 683.9H267.62M262.62 691.19H267.62" stroke="#1a1a1a" stroke-width="0.75" fill="none"/>
<path d="M279.78 626.43V632.81M277.28 626.43H282.28M277.28 632.81H282.28" stroke="#1a1a1a" stroke-width="0.75" fill="none"/>
<path d="M294.44 627.89V634.26M291.94 627.89H296.94M291.94 634.26H296.94" stroke="#1a1a1a" stroke-width="0.75" fill="none"/>
<path d="M309.1 619.33V625.7M306.6 619.33H311.6M306.6 625.7H311.6" stroke="#1a1a1a" stroke-width="0.75" fill="none"/>
<path d="M323.76 628.07V634.45M321.26 628.07H326.26M321.26 634.45H326.26" stroke="#1a1a1a" stroke-width="0.75" fill="none"/>
<path d="M338.42 619.69V626.07M335.92 619.69H340.92M335.92 626.07H340.92" stroke="#1a1a1a" stroke-width="0.75" fill="none"/>
<path d="M353.08 614.68V621.06M350.58 614.68H355.58M350.58 621.06H355.58" stroke="#1a1a1a" stroke-width="0.75" fill="none"/>
<path d="M228.35 601.2V710.5H360.85" stroke="#808080" stroke-width="1.0" fill="none"/>
<path d="M226.05 710.5H228.35M226.05 692.28H228.35M226.05 674.07H228.35M226.05 655.85H228.35M226.05 637.63H228.35M226.05 619.42H228.35M226.05 601.2H228.35" stroke="#666" stroke-width="0.8" fill="none"/>
<path d="M227.45 701.39H228.85M227.45 683.17H228.85M227.45 664.96H228.85M227.45 646.74H228.85M227.45 628.53H228.85M227.45 610.31H228.85" stroke="#333" stroke-width="0.9" fill="none"/>
<text class="w" x="224.65" y="712.3" font-size="6.9" text-anchor="end" fill="#2a2a2a">72</text>
<text class="w" x="224.65" y="694.08" font-size="6.9" text-anchor="end" fill="#2a2a2a">74</text>
<text class="w" x="224.65" y="675.87" font-size="6.9" text-anchor="end" fill="#2a2a2a">76</text>
<text class="w" x="224.65" y="657.65" font-size="6.9" text-anchor="end" fill="#2a2a2a">78</text>
<text class="w" x="224.65" y="639.43" font-size="6.9" text-anchor="end" fill="#2a2a2a">80</text>
<text class="w" x="224.65" y="621.22" font-size="6.9" text-anchor="end" fill="#2a2a2a">82</text>
<text class="w" x="224.65" y="603" font-size="6.9" text-anchor="end" fill="#2a2a2a">84</text>
<text class="w" transform="translate(214.65 659.55) rotate(-90)" font-size="7.9" text-anchor="middle" fill="#1e1e1e">Image-level Accuracy</text>
<path d="M309.1 616.3V609.4H353.08V612.8" stroke="#4a4a4a" stroke-width="0.8" fill="none"/>
<text x="331.09" y="608.8" font-size="9.3" text-anchor="middle" fill="#1e1e1e">***</text>
<rect x="392.65" y="613.35" width="10" height="97.15" fill="#6fa8d2" stroke="#1f1f1f" stroke-width="0.7"/>
<rect x="407.31" y="618.49" width="10" height="92.01" fill="#a9d9ea" stroke="#1f1f1f" stroke-width="0.7"/>
<rect x="421.97" y="688.77" width="10" height="21.73" fill="#e0f2f8" stroke="#1f1f1f" stroke-width="0.7"/>
<rect x="436.63" y="615.1" width="10" height="95.4" fill="#f3e297" stroke="#1f1f1f" stroke-width="0.7"/>
<rect x="451.29" y="613.35" width="10" height="97.15" fill="#f9bb7e" stroke="#1f1f1f" stroke-width="0.7"/>
<rect x="465.95" y="611.71" width="10" height="98.79" fill="#f68f7c" stroke="#1f1f1f" stroke-width="0.7"/>
<rect x="480.61" y="622.32" width="10" height="88.18" fill="#dd6b8b" stroke="#1f1f1f" stroke-width="0.7"/>
<rect x="495.27" y="606.25" width="10" height="104.25" fill="#a9559c" stroke="#1f1f1f" stroke-width="0.7"/>
<rect x="509.93" y="606.25" width="10" height="104.25" fill="#5a4ea3" stroke="#1f1f1f" stroke-width="0.7"/>
<path d="M397.65 609.73V616.28M395.15 609.73H400.15M395.15 616.28H400.15" stroke="#1a1a1a" stroke-width="0.75" fill="none"/>
<path d="M412.31 614.86V621.42M409.81 614.86H414.81M409.81 621.42H414.81" stroke="#1a1a1a" stroke-width="0.75" fill="none"/>
<path d="M426.97 685.14V691.7M424.47 685.14H429.47M424.47 691.7H429.47" stroke="#1a1a1a" stroke-width="0.75" fill="none"/>
<path d="M441.63 611.47V618.03M439.13 611.47H444.13M439.13 618.03H444.13" stroke="#1a1a1a" stroke-width="0.75" fill="none"/>
<path d="M456.29 609.73V616.28M453.79 609.73H458.79M453.79 616.28H458.79" stroke="#1a1a1a" stroke-width="0.75" fill="none"/>
<path d="M470.95 608.09V614.64M468.45 608.09H473.45M468.45 614.64H473.45" stroke="#1a1a1a" stroke-width="0.75" fill="none"/>
<path d="M485.61 618.69V625.25M483.11 618.69H488.11M483.11 625.25H488.11" stroke="#1a1a1a" stroke-width="0.75" fill="none"/>
<path d="M500.27 602.62V609.18M497.77 602.62H502.77M497.77 609.18H502.77" stroke="#1a1a1a" stroke-width="0.75" fill="none"/>
<path d="M514.93 602.62V609.18M512.43 602.62H517.43M512.43 609.18H517.43" stroke="#1a1a1a" stroke-width="0.75" fill="none"/>
<path d="M390.2 601.2V710.5H522.7" stroke="#808080" stroke-width="1.0" fill="none"/>
<path d="M387.9 710.5H390.2M387.9 688.64H390.2M387.9 666.78H390.2M387.9 644.92H390.2M387.9 623.06H390.2M387.9 601.2H390.2" stroke="#666" stroke-width="0.8" fill="none"/>
<path d="M389.3 699.57H390.7M389.3 677.71H390.7M389.3 655.85H390.7M389.3 633.99H390.7M389.3 612.13H390.7" stroke="#333" stroke-width="0.9" fill="none"/>
<text class="w" x="386.5" y="712.3" font-size="6.9" text-anchor="end" fill="#2a2a2a">76</text>
<text class="w" x="386.5" y="690.44" font-size="6.9" text-anchor="end" fill="#2a2a2a">78</text>
<text class="w" x="386.5" y="668.58" font-size="6.9" text-anchor="end" fill="#2a2a2a">80</text>
<text class="w" x="386.5" y="646.72" font-size="6.9" text-anchor="end" fill="#2a2a2a">82</text>
<text class="w" x="386.5" y="624.86" font-size="6.9" text-anchor="end" fill="#2a2a2a">84</text>
<text class="w" x="386.5" y="603" font-size="6.9" text-anchor="end" fill="#2a2a2a">86</text>
<text class="w" transform="translate(376.5 659.55) rotate(-90)" font-size="7.9" text-anchor="middle" fill="#1e1e1e">Video-level Accuracy</text>
<rect x="554.95" y="645.27" width="10" height="65.23" fill="#6fa8d2" stroke="#1f1f1f" stroke-width="0.7"/>
<rect x="569.61" y="632.29" width="10" height="78.21" fill="#a9d9ea" stroke="#1f1f1f" stroke-width="0.7"/>
<rect x="584.27" y="694.11" width="10" height="16.39" fill="#e0f2f8" stroke="#1f1f1f" stroke-width="0.7"/>
<rect x="598.93" y="645.95" width="10" height="64.55" fill="#f3e297" stroke="#1f1f1f" stroke-width="0.7"/>
<rect x="613.59" y="637.76" width="10" height="72.74" fill="#f9bb7e" stroke="#1f1f1f" stroke-width="0.7"/>
<rect x="628.25" y="635.71" width="10" height="74.79" fill="#f68f7c" stroke="#1f1f1f" stroke-width="0.7"/>
<rect x="642.91" y="634" width="10" height="76.5" fill="#dd6b8b" stroke="#1f1f1f" stroke-width="0.7"/>
<rect x="657.57" y="632.29" width="10" height="78.21" fill="#a9559c" stroke="#1f1f1f" stroke-width="0.7"/>
<rect x="672.23" y="618.63" width="10" height="91.87" fill="#5a4ea3" stroke="#1f1f1f" stroke-width="0.7"/>
<path d="M559.95 641.16V648.68M557.45 641.16H562.45M557.45 648.68H562.45" stroke="#1a1a1a" stroke-width="0.75" fill="none"/>
<path d="M574.61 627.84V636.04M572.11 627.84H577.11M572.11 636.04H577.11" stroke="#1a1a1a" stroke-width="0.75" fill="none"/>
<path d="M589.27 688.98V698.55M586.77 688.98H591.77M586.77 698.55H591.77" stroke="#1a1a1a" stroke-width="0.75" fill="none"/>
<path d="M603.93 641.5V649.7M601.43 641.5H606.43M601.43 649.7H606.43" stroke="#1a1a1a" stroke-width="0.75" fill="none"/>
<path d="M618.59 632.62V642.19M616.09 632.62H621.09M616.09 642.19H621.09" stroke="#1a1a1a" stroke-width="0.75" fill="none"/>
<path d="M633.25 631.94V638.77M630.75 631.94H635.75M630.75 638.77H635.75" stroke="#1a1a1a" stroke-width="0.75" fill="none"/>
<path d="M647.91 629.55V637.75M645.41 629.55H650.41M645.41 637.75H650.41" stroke="#1a1a1a" stroke-width="0.75" fill="none"/>
<path d="M662.57 628.53V635.36M660.07 628.53H665.07M660.07 635.36H665.07" stroke="#1a1a1a" stroke-width="0.75" fill="none"/>
<path d="M677.23 614.18V622.38M674.73 614.18H679.73M674.73 622.38H679.73" stroke="#1a1a1a" stroke-width="0.75" fill="none"/>
<path d="M552.5 601.2V710.5H685" stroke="#808080" stroke-width="1.0" fill="none"/>
<path d="M550.2 710.5H552.5M550.2 696.84H552.5M550.2 683.17H552.5M550.2 669.51H552.5M550.2 655.85H552.5M550.2 642.19H552.5M550.2 628.53H552.5M550.2 614.86H552.5M550.2 601.2H552.5" stroke="#666" stroke-width="0.8" fill="none"/>
<path d="M551.6 703.67H553M551.6 690.01H553M551.6 676.34H553M551.6 662.68H553M551.6 649.02H553M551.6 635.36H553M551.6 621.69H553M551.6 608.03H553" stroke="#333" stroke-width="0.9" fill="none"/>
<text class="w" x="548.8" y="712.3" font-size="6.9" text-anchor="end" fill="#2a2a2a">50</text>
<text class="w" x="548.8" y="698.64" font-size="6.9" text-anchor="end" fill="#2a2a2a">52</text>
<text class="w" x="548.8" y="684.97" font-size="6.9" text-anchor="end" fill="#2a2a2a">54</text>
<text class="w" x="548.8" y="671.31" font-size="6.9" text-anchor="end" fill="#2a2a2a">56</text>
<text class="w" x="548.8" y="657.65" font-size="6.9" text-anchor="end" fill="#2a2a2a">58</text>
<text class="w" x="548.8" y="643.99" font-size="6.9" text-anchor="end" fill="#2a2a2a">60</text>
<text class="w" x="548.8" y="630.33" font-size="6.9" text-anchor="end" fill="#2a2a2a">62</text>
<text class="w" x="548.8" y="616.66" font-size="6.9" text-anchor="end" fill="#2a2a2a">64</text>
<text class="w" x="548.8" y="603" font-size="6.9" text-anchor="end" fill="#2a2a2a">66</text>
<text class="w" transform="translate(538.8 659.55) rotate(-90)" font-size="7.9" text-anchor="middle" fill="#1e1e1e">Phase-level Jaccard</text>
<path d="M574.61 625.84V605.1H677.23V610.2" stroke="#4a4a4a" stroke-width="0.8" fill="none"/>
<text x="625.92" y="608.2" font-size="9.3" text-anchor="middle" fill="#1e1e1e">***</text>
<rect x="230.8" y="819.41" width="10" height="11.09" fill="#6fa8d2" stroke="#1f1f1f" stroke-width="0.7"/>
<rect x="245.45" y="786.02" width="10" height="44.48" fill="#a9d9ea" stroke="#1f1f1f" stroke-width="0.7"/>
<rect x="260.1" y="748.96" width="10" height="81.54" fill="#e0f2f8" stroke="#1f1f1f" stroke-width="0.7"/>
<rect x="274.75" y="737.52" width="10" height="92.98" fill="#f3e297" stroke="#1f1f1f" stroke-width="0.7"/>
<rect x="289.4" y="735.23" width="10" height="95.27" fill="#f9bb7e" stroke="#1f1f1f" stroke-width="0.7"/>
<rect x="304.05" y="730.66" width="10" height="99.84" fill="#f68f7c" stroke="#1f1f1f" stroke-width="0.7"/>
<rect x="318.7" y="741.18" width="10" height="89.32" fill="#dd6b8b" stroke="#1f1f1f" stroke-width="0.7"/>
<rect x="333.35" y="731.57" width="10" height="98.93" fill="#a9559c" stroke="#1f1f1f" stroke-width="0.7"/>
<rect x="348" y="729.29" width="10" height="101.21" fill="#5a4ea3" stroke="#1f1f1f" stroke-width="0.7"/>
<path d="M235.8 817.92V820.21M233.3 817.92H238.3M233.3 820.21H238.3" stroke="#1a1a1a" stroke-width="0.75" fill="none"/>
<path d="M250.45 784.52V786.81M247.95 784.52H252.95M247.95 786.81H252.95" stroke="#1a1a1a" stroke-width="0.75" fill="none"/>
<path d="M265.1 747.92V749.29M262.6 747.92H267.6M262.6 749.29H267.6" stroke="#1a1a1a" stroke-width="0.75" fill="none"/>
<path d="M279.75 736.48V737.86M277.25 736.48H282.25M277.25 737.86H282.25" stroke="#1a1a1a" stroke-width="0.75" fill="none"/>
<path d="M294.4 734.2V735.57M291.9 734.2H296.9M291.9 735.57H296.9" stroke="#1a1a1a" stroke-width="0.75" fill="none"/>
<path d="M309.05 729.62V730.99M306.55 729.62H311.55M306.55 730.99H311.55" stroke="#1a1a1a" stroke-width="0.75" fill="none"/>
<path d="M323.7 740.14V741.52M321.2 740.14H326.2M321.2 741.52H326.2" stroke="#1a1a1a" stroke-width="0.75" fill="none"/>
<path d="M338.35 730.54V731.91M335.85 730.54H340.85M335.85 731.91H340.85" stroke="#1a1a1a" stroke-width="0.75" fill="none"/>
<path d="M353 728.25V729.62M350.5 728.25H355.5M350.5 729.62H355.5" stroke="#1a1a1a" stroke-width="0.75" fill="none"/>
<path d="M228.35 720.7V830.5H360.85" stroke="#808080" stroke-width="1.0" fill="none"/>
<path d="M226.05 830.5H228.35M226.05 816.77H228.35M226.05 803.05H228.35M226.05 789.33H228.35M226.05 775.6H228.35M226.05 761.88H228.35M226.05 748.15H228.35M226.05 734.43H228.35M226.05 720.7H228.35" stroke="#666" stroke-width="0.8" fill="none"/>
<path d="M227.45 825.92H228.85M227.45 821.35H228.85M227.45 812.2H228.85M227.45 807.62H228.85M227.45 798.48H228.85M227.45 793.9H228.85M227.45 784.75H228.85M227.45 780.18H228.85M227.45 771.02H228.85M227.45 766.45H228.85M227.45 757.3H228.85M227.45 752.73H228.85M227.45 743.58H228.85M227.45 739H228.85M227.45 729.85H228.85M227.45 725.28H228.85" stroke="#333" stroke-width="0.9" fill="none"/>
<text class="w" x="224.65" y="832.3" font-size="6.9" text-anchor="end" fill="#2a2a2a">72</text>
<text class="w" x="224.65" y="818.57" font-size="6.9" text-anchor="end" fill="#2a2a2a">75</text>
<text class="w" x="224.65" y="804.85" font-size="6.9" text-anchor="end" fill="#2a2a2a">78</text>
<text class="w" x="224.65" y="791.12" font-size="6.9" text-anchor="end" fill="#2a2a2a">81</text>
<text class="w" x="224.65" y="777.4" font-size="6.9" text-anchor="end" fill="#2a2a2a">84</text>
<text class="w" x="224.65" y="763.67" font-size="6.9" text-anchor="end" fill="#2a2a2a">87</text>
<text class="w" x="224.65" y="749.95" font-size="6.9" text-anchor="end" fill="#2a2a2a">90</text>
<text class="w" x="224.65" y="736.23" font-size="6.9" text-anchor="end" fill="#2a2a2a">93</text>
<text class="w" x="224.65" y="722.5" font-size="6.9" text-anchor="end" fill="#2a2a2a">96</text>
<text class="w" transform="translate(214.65 779.3) rotate(-90)" font-size="7.9" text-anchor="middle" fill="#1e1e1e">Image-level Accuracy</text>
<path d="M309.05 726.8V724.9H353V725.8" stroke="#4a4a4a" stroke-width="0.8" fill="none"/>
<text x="331.02" y="725.6" font-size="9.3" text-anchor="middle" fill="#1e1e1e">***</text>
<rect x="392.65" y="815.75" width="10" height="14.75" fill="#6fa8d2" stroke="#1f1f1f" stroke-width="0.7"/>
<rect x="407.3" y="783.27" width="10" height="47.23" fill="#a9d9ea" stroke="#1f1f1f" stroke-width="0.7"/>
<rect x="421.95" y="745.76" width="10" height="84.74" fill="#e0f2f8" stroke="#1f1f1f" stroke-width="0.7"/>
<rect x="436.6" y="734.78" width="10" height="95.72" fill="#f3e297" stroke="#1f1f1f" stroke-width="0.7"/>
<rect x="451.25" y="732.95" width="10" height="97.55" fill="#f9bb7e" stroke="#1f1f1f" stroke-width="0.7"/>
<rect x="465.9" y="729.29" width="10" height="101.21" fill="#f68f7c" stroke="#1f1f1f" stroke-width="0.7"/>
<rect x="480.55" y="737.52" width="10" height="92.98" fill="#dd6b8b" stroke="#1f1f1f" stroke-width="0.7"/>
<rect x="495.2" y="729.29" width="10" height="101.21" fill="#a9559c" stroke="#1f1f1f" stroke-width="0.7"/>
<rect x="509.85" y="727" width="10" height="103.5" fill="#5a4ea3" stroke="#1f1f1f" stroke-width="0.7"/>
<path d="M397.65 814.03V816.77M395.15 814.03H400.15M395.15 816.77H400.15" stroke="#1a1a1a" stroke-width="0.75" fill="none"/>
<path d="M412.3 782.23V783.61M409.8 782.23H414.8M409.8 783.61H414.8" stroke="#1a1a1a" stroke-width="0.75" fill="none"/>
<path d="M426.95 744.81V746M424.45 744.81H429.45M424.45 746H429.45" stroke="#1a1a1a" stroke-width="0.75" fill="none"/>
<path d="M441.6 733.83V735.02M439.1 733.83H444.1M439.1 735.02H444.1" stroke="#1a1a1a" stroke-width="0.75" fill="none"/>
<path d="M456.25 732V733.19M453.75 732H458.75M453.75 733.19H458.75" stroke="#1a1a1a" stroke-width="0.75" fill="none"/>
<path d="M470.9 728.34V729.53M468.4 728.34H473.4M468.4 729.53H473.4" stroke="#1a1a1a" stroke-width="0.75" fill="none"/>
<path d="M485.55 736.58V737.76M483.05 736.58H488.05M483.05 737.76H488.05" stroke="#1a1a1a" stroke-width="0.75" fill="none"/>
<path d="M500.2 728.34V729.53M497.7 728.34H502.7M497.7 729.53H502.7" stroke="#1a1a1a" stroke-width="0.75" fill="none"/>
<path d="M514.85 726.05V727.24M512.35 726.05H517.35M512.35 727.24H517.35" stroke="#1a1a1a" stroke-width="0.75" fill="none"/>
<path d="M390.2 720.7V830.5H522.7" stroke="#808080" stroke-width="1.0" fill="none"/>
<path d="M387.9 830.5H390.2M387.9 816.77H390.2M387.9 803.05H390.2M387.9 789.33H390.2M387.9 775.6H390.2M387.9 761.88H390.2M387.9 748.15H390.2M387.9 734.43H390.2M387.9 720.7H390.2" stroke="#666" stroke-width="0.8" fill="none"/>
<path d="M389.3 825.92H390.7M389.3 821.35H390.7M389.3 812.2H390.7M389.3 807.62H390.7M389.3 798.48H390.7M389.3 793.9H390.7M389.3 784.75H390.7M389.3 780.18H390.7M389.3 771.02H390.7M389.3 766.45H390.7M389.3 757.3H390.7M389.3 752.73H390.7M389.3 743.58H390.7M389.3 739H390.7M389.3 729.85H390.7M389.3 725.28H390.7" stroke="#333" stroke-width="0.9" fill="none"/>
<text class="w" x="386.5" y="832.3" font-size="6.9" text-anchor="end" fill="#2a2a2a">72</text>
<text class="w" x="386.5" y="818.57" font-size="6.9" text-anchor="end" fill="#2a2a2a">75</text>
<text class="w" x="386.5" y="804.85" font-size="6.9" text-anchor="end" fill="#2a2a2a">78</text>
<text class="w" x="386.5" y="791.12" font-size="6.9" text-anchor="end" fill="#2a2a2a">81</text>
<text class="w" x="386.5" y="777.4" font-size="6.9" text-anchor="end" fill="#2a2a2a">84</text>
<text class="w" x="386.5" y="763.67" font-size="6.9" text-anchor="end" fill="#2a2a2a">87</text>
<text class="w" x="386.5" y="749.95" font-size="6.9" text-anchor="end" fill="#2a2a2a">90</text>
<text class="w" x="386.5" y="736.23" font-size="6.9" text-anchor="end" fill="#2a2a2a">93</text>
<text class="w" x="386.5" y="722.5" font-size="6.9" text-anchor="end" fill="#2a2a2a">96</text>
<text class="w" transform="translate(376.5 779.3) rotate(-90)" font-size="7.9" text-anchor="middle" fill="#1e1e1e">Video-level Accuracy</text>
<path d="M500.2 726.4V724.3H514.85V724.05" stroke="#4a4a4a" stroke-width="0.8" fill="none"/>
<text x="507.53" y="725.8" font-size="9.3" text-anchor="middle" fill="#1e1e1e">***</text>
<rect x="554.95" y="821.58" width="10" height="8.92" fill="#6fa8d2" stroke="#1f1f1f" stroke-width="0.7"/>
<rect x="569.6" y="797.18" width="10" height="33.32" fill="#a9d9ea" stroke="#1f1f1f" stroke-width="0.7"/>
<rect x="584.25" y="759.6" width="10" height="70.9" fill="#e0f2f8" stroke="#1f1f1f" stroke-width="0.7"/>
<rect x="598.9" y="747.16" width="10" height="83.34" fill="#f3e297" stroke="#1f1f1f" stroke-width="0.7"/>
<rect x="613.55" y="746.43" width="10" height="84.07" fill="#f9bb7e" stroke="#1f1f1f" stroke-width="0.7"/>
<rect x="628.2" y="740.57" width="10" height="89.93" fill="#f68f7c" stroke="#1f1f1f" stroke-width="0.7"/>
<rect x="642.85" y="751.31" width="10" height="79.19" fill="#dd6b8b" stroke="#1f1f1f" stroke-width="0.7"/>
<rect x="657.5" y="740.81" width="10" height="89.69" fill="#a9559c" stroke="#1f1f1f" stroke-width="0.7"/>
<rect x="672.15" y="739.35" width="10" height="91.15" fill="#5a4ea3" stroke="#1f1f1f" stroke-width="0.7"/>
<path d="M559.95 820.25V822.2M557.45 820.25H562.45M557.45 822.2H562.45" stroke="#1a1a1a" stroke-width="0.75" fill="none"/>
<path d="M574.6 795.85V797.8M572.1 795.85H577.1M572.1 797.8H577.1" stroke="#1a1a1a" stroke-width="0.75" fill="none"/>
<path d="M589.25 758.28V760.23M586.75 758.28H591.75M586.75 760.23H591.75" stroke="#1a1a1a" stroke-width="0.75" fill="none"/>
<path d="M603.9 745.83V747.78M601.4 745.83H606.4M601.4 747.78H606.4" stroke="#1a1a1a" stroke-width="0.75" fill="none"/>
<path d="M618.55 745.1V747.05M616.05 745.1H621.05M616.05 747.05H621.05" stroke="#1a1a1a" stroke-width="0.75" fill="none"/>
<path d="M633.2 739.24V741.2M630.7 739.24H635.7M630.7 741.2H635.7" stroke="#1a1a1a" stroke-width="0.75" fill="none"/>
<path d="M647.85 749.98V751.93M645.35 749.98H650.35M645.35 751.93H650.35" stroke="#1a1a1a" stroke-width="0.75" fill="none"/>
<path d="M662.5 739.49V741.44M660 739.49H665M660 741.44H665" stroke="#1a1a1a" stroke-width="0.75" fill="none"/>
<path d="M677.15 738.02V739.98M674.65 738.02H679.65M674.65 739.98H679.65" stroke="#1a1a1a" stroke-width="0.75" fill="none"/>
<path d="M552.5 720.7V830.5H685" stroke="#808080" stroke-width="1.0" fill="none"/>
<path d="M550.2 830.5H552.5M550.2 818.3H552.5M550.2 806.1H552.5M550.2 793.9H552.5M550.2 781.7H552.5M550.2 769.5H552.5M550.2 757.3H552.5M550.2 745.1H552.5M550.2 732.9H552.5M550.2 720.7H552.5" stroke="#666" stroke-width="0.8" fill="none"/>
<path d="M551.6 824.4H553M551.6 812.2H553M551.6 800H553M551.6 787.8H553M551.6 775.6H553M551.6 763.4H553M551.6 751.2H553M551.6 739H553M551.6 726.8H553" stroke="#333" stroke-width="0.9" fill="none"/>
<text class="w" x="548.8" y="832.3" font-size="6.9" text-anchor="end" fill="#2a2a2a">50</text>
<text class="w" x="548.8" y="820.1" font-size="6.9" text-anchor="end" fill="#2a2a2a">55</text>
<text class="w" x="548.8" y="807.9" font-size="6.9" text-anchor="end" fill="#2a2a2a">60</text>
<text class="w" x="548.8" y="795.7" font-size="6.9" text-anchor="end" fill="#2a2a2a">65</text>
<text class="w" x="548.8" y="783.5" font-size="6.9" text-anchor="end" fill="#2a2a2a">70</text>
<text class="w" x="548.8" y="771.3" font-size="6.9" text-anchor="end" fill="#2a2a2a">75</text>
<text class="w" x="548.8" y="759.1" font-size="6.9" text-anchor="end" fill="#2a2a2a">80</text>
<text class="w" x="548.8" y="746.9" font-size="6.9" text-anchor="end" fill="#2a2a2a">85</text>
<text class="w" x="548.8" y="734.7" font-size="6.9" text-anchor="end" fill="#2a2a2a">90</text>
<text class="w" x="548.8" y="722.5" font-size="6.9" text-anchor="end" fill="#2a2a2a">95</text>
<text class="w" transform="translate(538.8 779.3) rotate(-90)" font-size="7.9" text-anchor="middle" fill="#1e1e1e">Phase-level Jaccard</text>
<path d="M633.2 733.7V725.8H677.15V733.1" stroke="#4a4a4a" stroke-width="0.8" fill="none"/>
<text x="655.18" y="726.6" font-size="9.3" text-anchor="middle" fill="#1e1e1e">***</text>
<rect x="231.65" y="877.88" width="10" height="72.53" fill="#6fa8d2" stroke="#1f1f1f" stroke-width="0.7"/>
<rect x="246.3" y="903.08" width="10" height="47.32" fill="#a9d9ea" stroke="#1f1f1f" stroke-width="0.7"/>
<rect x="260.95" y="926.46" width="10" height="23.94" fill="#e0f2f8" stroke="#1f1f1f" stroke-width="0.7"/>
<rect x="275.6" y="888.88" width="10" height="61.52" fill="#f3e297" stroke="#1f1f1f" stroke-width="0.7"/>
<rect x="290.25" y="876.04" width="10" height="74.36" fill="#f9bb7e" stroke="#1f1f1f" stroke-width="0.7"/>
<rect x="304.9" y="873.75" width="10" height="76.65" fill="#f68f7c" stroke="#1f1f1f" stroke-width="0.7"/>
<rect x="319.55" y="890.71" width="10" height="59.69" fill="#dd6b8b" stroke="#1f1f1f" stroke-width="0.7"/>
<rect x="334.2" y="867.33" width="10" height="83.07" fill="#a9559c" stroke="#1f1f1f" stroke-width="0.7"/>
<rect x="348.85" y="857.71" width="10" height="92.69" fill="#5a4ea3" stroke="#1f1f1f" stroke-width="0.7"/>
<path d="M236.65 868.36V886.69M234.15 868.36H239.15M234.15 886.69H239.15" stroke="#1a1a1a" stroke-width="0.75" fill="none"/>
<path d="M251.3 893.11V912.36M248.8 893.11H253.8M248.8 912.36H253.8" stroke="#1a1a1a" stroke-width="0.75" fill="none"/>
<path d="M265.95 915.57V936.65M263.45 915.57H268.45M263.45 936.65H268.45" stroke="#1a1a1a" stroke-width="0.75" fill="none"/>
<path d="M280.6 878.9V898.15M278.1 878.9H283.1M278.1 898.15H283.1" stroke="#1a1a1a" stroke-width="0.75" fill="none"/>
<path d="M295.25 866.52V884.86M292.75 866.52H297.75M292.75 884.86H297.75" stroke="#1a1a1a" stroke-width="0.75" fill="none"/>
<path d="M309.9 864.69V882.11M307.4 864.69H312.4M307.4 882.11H312.4" stroke="#1a1a1a" stroke-width="0.75" fill="none"/>
<path d="M324.55 880.73V899.98M322.05 880.73H327.05M322.05 899.98H327.05" stroke="#1a1a1a" stroke-width="0.75" fill="none"/>
<path d="M339.2 858.27V875.69M336.7 858.27H341.7M336.7 875.69H341.7" stroke="#1a1a1a" stroke-width="0.75" fill="none"/>
<path d="M353.85 849.11V865.61M351.35 849.11H356.35M351.35 865.61H356.35" stroke="#1a1a1a" stroke-width="0.75" fill="none"/>
<path d="M229.2 840.4V950.4H361.7" stroke="#808080" stroke-width="1.0" fill="none"/>
<path d="M226.9 950.4H229.2M226.9 932.07H229.2M226.9 913.73H229.2M226.9 895.4H229.2M226.9 877.07H229.2M226.9 858.73H229.2M226.9 840.4H229.2" stroke="#666" stroke-width="0.8" fill="none"/>
<path d="M228.3 941.23H229.7M228.3 922.9H229.7M228.3 904.57H229.7M228.3 886.23H229.7M228.3 867.9H229.7M228.3 849.57H229.7" stroke="#333" stroke-width="0.9" fill="none"/>
<text class="w" x="225.5" y="952.2" font-size="6.9" text-anchor="end" fill="#2a2a2a">82</text>
<text class="w" x="225.5" y="933.87" font-size="6.9" text-anchor="end" fill="#2a2a2a">84</text>
<text class="w" x="225.5" y="915.53" font-size="6.9" text-anchor="end" fill="#2a2a2a">86</text>
<text class="w" x="225.5" y="897.2" font-size="6.9" text-anchor="end" fill="#2a2a2a">88</text>
<text class="w" x="225.5" y="878.87" font-size="6.9" text-anchor="end" fill="#2a2a2a">90</text>
<text class="w" x="225.5" y="860.53" font-size="6.9" text-anchor="end" fill="#2a2a2a">92</text>
<text class="w" x="225.5" y="842.2" font-size="6.9" text-anchor="end" fill="#2a2a2a">94</text>
<text class="w" transform="translate(215.5 899.1) rotate(-90)" font-size="7.9" text-anchor="middle" fill="#1e1e1e">Image-level Accuracy</text>
<path d="M339.2 854.7V844.3H353.85V846.8" stroke="#4a4a4a" stroke-width="0.8" fill="none"/>
<text x="346.52" y="844.8" font-size="9.3" text-anchor="middle" fill="#1e1e1e">***</text>
<rect x="393.5" y="881.54" width="10" height="68.86" fill="#6fa8d2" stroke="#1f1f1f" stroke-width="0.7"/>
<rect x="408.15" y="910.42" width="10" height="39.98" fill="#a9d9ea" stroke="#1f1f1f" stroke-width="0.7"/>
<rect x="422.8" y="935.62" width="10" height="14.78" fill="#e0f2f8" stroke="#1f1f1f" stroke-width="0.7"/>
<rect x="437.45" y="891.17" width="10" height="59.23" fill="#f3e297" stroke="#1f1f1f" stroke-width="0.7"/>
<rect x="452.1" y="878.33" width="10" height="72.07" fill="#f9bb7e" stroke="#1f1f1f" stroke-width="0.7"/>
<rect x="466.75" y="872.83" width="10" height="77.57" fill="#f68f7c" stroke="#1f1f1f" stroke-width="0.7"/>
<rect x="481.4" y="894.83" width="10" height="55.57" fill="#dd6b8b" stroke="#1f1f1f" stroke-width="0.7"/>
<rect x="496.05" y="870.54" width="10" height="79.86" fill="#a9559c" stroke="#1f1f1f" stroke-width="0.7"/>
<rect x="510.7" y="859.08" width="10" height="91.32" fill="#5a4ea3" stroke="#1f1f1f" stroke-width="0.7"/>
<path d="M398.5 871.57V890.82M396 871.57H401M396 890.82H401" stroke="#1a1a1a" stroke-width="0.75" fill="none"/>
<path d="M413.15 899.52V920.61M410.65 899.52H415.65M410.65 920.61H415.65" stroke="#1a1a1a" stroke-width="0.75" fill="none"/>
<path d="M427.8 924.27V946.27M425.3 924.27H430.3M425.3 946.27H430.3" stroke="#1a1a1a" stroke-width="0.75" fill="none"/>
<path d="M442.45 880.73V900.9M439.95 880.73H444.95M439.95 900.9H444.95" stroke="#1a1a1a" stroke-width="0.75" fill="none"/>
<path d="M457.1 868.36V887.61M454.6 868.36H459.6M454.6 887.61H459.6" stroke="#1a1a1a" stroke-width="0.75" fill="none"/>
<path d="M471.75 863.77V881.19M469.25 863.77H474.25M469.25 881.19H474.25" stroke="#1a1a1a" stroke-width="0.75" fill="none"/>
<path d="M486.4 884.86V904.11M483.9 884.86H488.9M483.9 904.11H488.9" stroke="#1a1a1a" stroke-width="0.75" fill="none"/>
<path d="M501.05 861.02V879.36M498.55 861.02H503.55M498.55 879.36H503.55" stroke="#1a1a1a" stroke-width="0.75" fill="none"/>
<path d="M515.7 850.48V866.98M513.2 850.48H518.2M513.2 866.98H518.2" stroke="#1a1a1a" stroke-width="0.75" fill="none"/>
<path d="M391.05 840.4V950.4H523.55" stroke="#808080" stroke-width="1.0" fill="none"/>
<path d="M388.75 950.4H391.05M388.75 932.07H391.05M388.75 913.73H391.05M388.75 895.4H391.05M388.75 877.07H391.05M388.75 858.73H391.05M388.75 840.4H391.05" stroke="#666" stroke-width="0.8" fill="none"/>
<path d="M390.15 941.23H391.55M390.15 922.9H391.55M390.15 904.57H391.55M390.15 886.23H391.55M390.15 867.9H391.55M390.15 849.57H391.55" stroke="#333" stroke-width="0.9" fill="none"/>
<text class="w" x="387.35" y="952.2" font-size="6.9" text-anchor="end" fill="#2a2a2a">82</text>
<text class="w" x="387.35" y="933.87" font-size="6.9" text-anchor="end" fill="#2a2a2a">84</text>
<text class="w" x="387.35" y="915.53" font-size="6.9" text-anchor="end" fill="#2a2a2a">86</text>
<text class="w" x="387.35" y="897.2" font-size="6.9" text-anchor="end" fill="#2a2a2a">88</text>
<text class="w" x="387.35" y="878.87" font-size="6.9" text-anchor="end" fill="#2a2a2a">90</text>
<text class="w" x="387.35" y="860.53" font-size="6.9" text-anchor="end" fill="#2a2a2a">92</text>
<text class="w" x="387.35" y="842.2" font-size="6.9" text-anchor="end" fill="#2a2a2a">94</text>
<text class="w" transform="translate(377.35 899.1) rotate(-90)" font-size="7.9" text-anchor="middle" fill="#1e1e1e">Video-level Accuracy</text>
<path d="M501.05 857.1V846.4H515.7V848.4" stroke="#4a4a4a" stroke-width="0.8" fill="none"/>
<text x="508.38" y="847.2" font-size="9.3" text-anchor="middle" fill="#1e1e1e">***</text>
<rect x="554.95" y="891.62" width="10" height="58.77" fill="#6fa8d2" stroke="#1f1f1f" stroke-width="0.7"/>
<rect x="569.6" y="906.75" width="10" height="43.65" fill="#a9d9ea" stroke="#1f1f1f" stroke-width="0.7"/>
<rect x="584.25" y="934.25" width="10" height="16.15" fill="#e0f2f8" stroke="#1f1f1f" stroke-width="0.7"/>
<rect x="598.9" y="891.62" width="10" height="58.77" fill="#f3e297" stroke="#1f1f1f" stroke-width="0.7"/>
<rect x="613.55" y="875.12" width="10" height="75.28" fill="#f9bb7e" stroke="#1f1f1f" stroke-width="0.7"/>
<rect x="628.2" y="866.42" width="10" height="83.98" fill="#f68f7c" stroke="#1f1f1f" stroke-width="0.7"/>
<rect x="642.85" y="892.08" width="10" height="58.32" fill="#dd6b8b" stroke="#1f1f1f" stroke-width="0.7"/>
<rect x="657.5" y="865.5" width="10" height="84.9" fill="#a9559c" stroke="#1f1f1f" stroke-width="0.7"/>
<rect x="672.15" y="859.08" width="10" height="91.32" fill="#5a4ea3" stroke="#1f1f1f" stroke-width="0.7"/>
<path d="M559.95 881.19V901.36M557.45 881.19H562.45M557.45 901.36H562.45" stroke="#1a1a1a" stroke-width="0.75" fill="none"/>
<path d="M574.6 896.77V916.02M572.1 896.77H577.1M572.1 916.02H577.1" stroke="#1a1a1a" stroke-width="0.75" fill="none"/>
<path d="M589.25 924.27V943.52M586.75 924.27H591.75M586.75 943.52H591.75" stroke="#1a1a1a" stroke-width="0.75" fill="none"/>
<path d="M603.9 881.19V901.36M601.4 881.19H606.4M601.4 901.36H606.4" stroke="#1a1a1a" stroke-width="0.75" fill="none"/>
<path d="M618.55 865.15V884.4M616.05 865.15H621.05M616.05 884.4H621.05" stroke="#1a1a1a" stroke-width="0.75" fill="none"/>
<path d="M633.2 856.44V875.69M630.7 856.44H635.7M630.7 875.69H635.7" stroke="#1a1a1a" stroke-width="0.75" fill="none"/>
<path d="M647.85 882.11V901.36M645.35 882.11H650.35M645.35 901.36H650.35" stroke="#1a1a1a" stroke-width="0.75" fill="none"/>
<path d="M662.5 855.53V874.77M660 855.53H665M660 874.77H665" stroke="#1a1a1a" stroke-width="0.75" fill="none"/>
<path d="M677.15 849.11V868.36M674.65 849.11H679.65M674.65 868.36H679.65" stroke="#1a1a1a" stroke-width="0.75" fill="none"/>
<path d="M552.5 840.4V950.4H685" stroke="#808080" stroke-width="1.0" fill="none"/>
<path d="M550.2 950.4H552.5M550.2 932.07H552.5M550.2 913.73H552.5M550.2 895.4H552.5M550.2 877.07H552.5M550.2 858.73H552.5M550.2 840.4H552.5" stroke="#666" stroke-width="0.8" fill="none"/>
<path d="M551.6 941.23H553M551.6 922.9H553M551.6 904.57H553M551.6 886.23H553M551.6 867.9H553M551.6 849.57H553" stroke="#333" stroke-width="0.9" fill="none"/>
<text class="w" x="548.8" y="952.2" font-size="6.9" text-anchor="end" fill="#2a2a2a">60</text>
<text class="w" x="548.8" y="933.87" font-size="6.9" text-anchor="end" fill="#2a2a2a">64</text>
<text class="w" x="548.8" y="915.53" font-size="6.9" text-anchor="end" fill="#2a2a2a">68</text>
<text class="w" x="548.8" y="897.2" font-size="6.9" text-anchor="end" fill="#2a2a2a">72</text>
<text class="w" x="548.8" y="878.87" font-size="6.9" text-anchor="end" fill="#2a2a2a">76</text>
<text class="w" x="548.8" y="860.53" font-size="6.9" text-anchor="end" fill="#2a2a2a">80</text>
<text class="w" x="548.8" y="842.2" font-size="6.9" text-anchor="end" fill="#2a2a2a">84</text>
<text class="w" transform="translate(538.8 899.1) rotate(-90)" font-size="7.9" text-anchor="middle" fill="#1e1e1e">Phase-level Jaccard</text>
<path d="M662.5 852.4V845.3H677.15V848.8" stroke="#4a4a4a" stroke-width="0.8" fill="none"/>
<text x="669.83" y="845.2" font-size="9.3" text-anchor="middle" fill="#1e1e1e">***</text>
<rect x="0.9" y="958.1" width="9.2" height="9.4" rx="2" fill="#6fa8d2" stroke="#222" stroke-width="1"/>
<text class="w" x="11.9" y="964.6" font-size="7.6" fill="#1e1e1e" textLength="62.9" lengthAdjust="spacingAndGlyphs">ImageNet1k-DINO</text>
<rect x="84.8" y="958.1" width="8.6" height="9.4" rx="2" fill="#a9d9ea" stroke="#222" stroke-width="1"/>
<text class="w" x="95.4" y="964.6" font-size="7.6" fill="#1e1e1e" textLength="60.1" lengthAdjust="spacingAndGlyphs">ImageNet1k-MAE</text>
<rect x="165.4" y="958.1" width="9" height="9.4" rx="2" fill="#e0f2f8" stroke="#222" stroke-width="1"/>
<text class="w" x="176.6" y="964.6" font-size="7.6" fill="#1e1e1e" textLength="82.2" lengthAdjust="spacingAndGlyphs">ImageNet1k-Supervised</text>
<rect x="269.3" y="958.1" width="9" height="9.4" rx="2" fill="#f3e297" stroke="#222" stroke-width="1"/>
<text class="w" x="280.6" y="964.6" font-size="7.6" fill="#1e1e1e" textLength="56.5" lengthAdjust="spacingAndGlyphs">K400-VideoMAE</text>
<rect x="346.8" y="958.1" width="9.3" height="9.4" rx="2" fill="#f9bb7e" stroke="#222" stroke-width="1"/>
<text class="w" x="358.1" y="964.6" font-size="7.6" fill="#1e1e1e" textLength="71.6" lengthAdjust="spacingAndGlyphs">Hybrid1M-VideoMAE</text>
<rect x="438.9" y="958.1" width="9" height="9.4" rx="2" fill="#f68f7c" stroke="#222" stroke-width="1"/>
<text class="w" x="450.2" y="964.6" font-size="7.6" fill="#1e1e1e" textLength="56.5" lengthAdjust="spacingAndGlyphs">SSv2-VideoMAE</text>
<rect x="518.1" y="958.1" width="8.6" height="9.4" rx="2" fill="#dd6b8b" stroke="#222" stroke-width="1"/>
<text class="w" x="528.8" y="964.6" font-size="7.6" fill="#1e1e1e" textLength="37" lengthAdjust="spacingAndGlyphs">K710-UMT</text>
<rect x="576.9" y="958.1" width="8.6" height="9.4" rx="2" fill="#a9559c" stroke="#222" stroke-width="1"/>
<text class="w" x="587.4" y="964.6" font-size="7.6" fill="#1e1e1e" textLength="37.6" lengthAdjust="spacingAndGlyphs">K400-MVD</text>
<rect x="634.7" y="958.1" width="8.8" height="9.4" rx="2" fill="#5a4ea3" stroke="#222" stroke-width="1"/>
<text class="w" x="645.4" y="964.6" font-size="7.6" fill="#1e1e1e" textLength="37.6" lengthAdjust="spacingAndGlyphs">SurgVISTA</text>
</svg></body></html>
